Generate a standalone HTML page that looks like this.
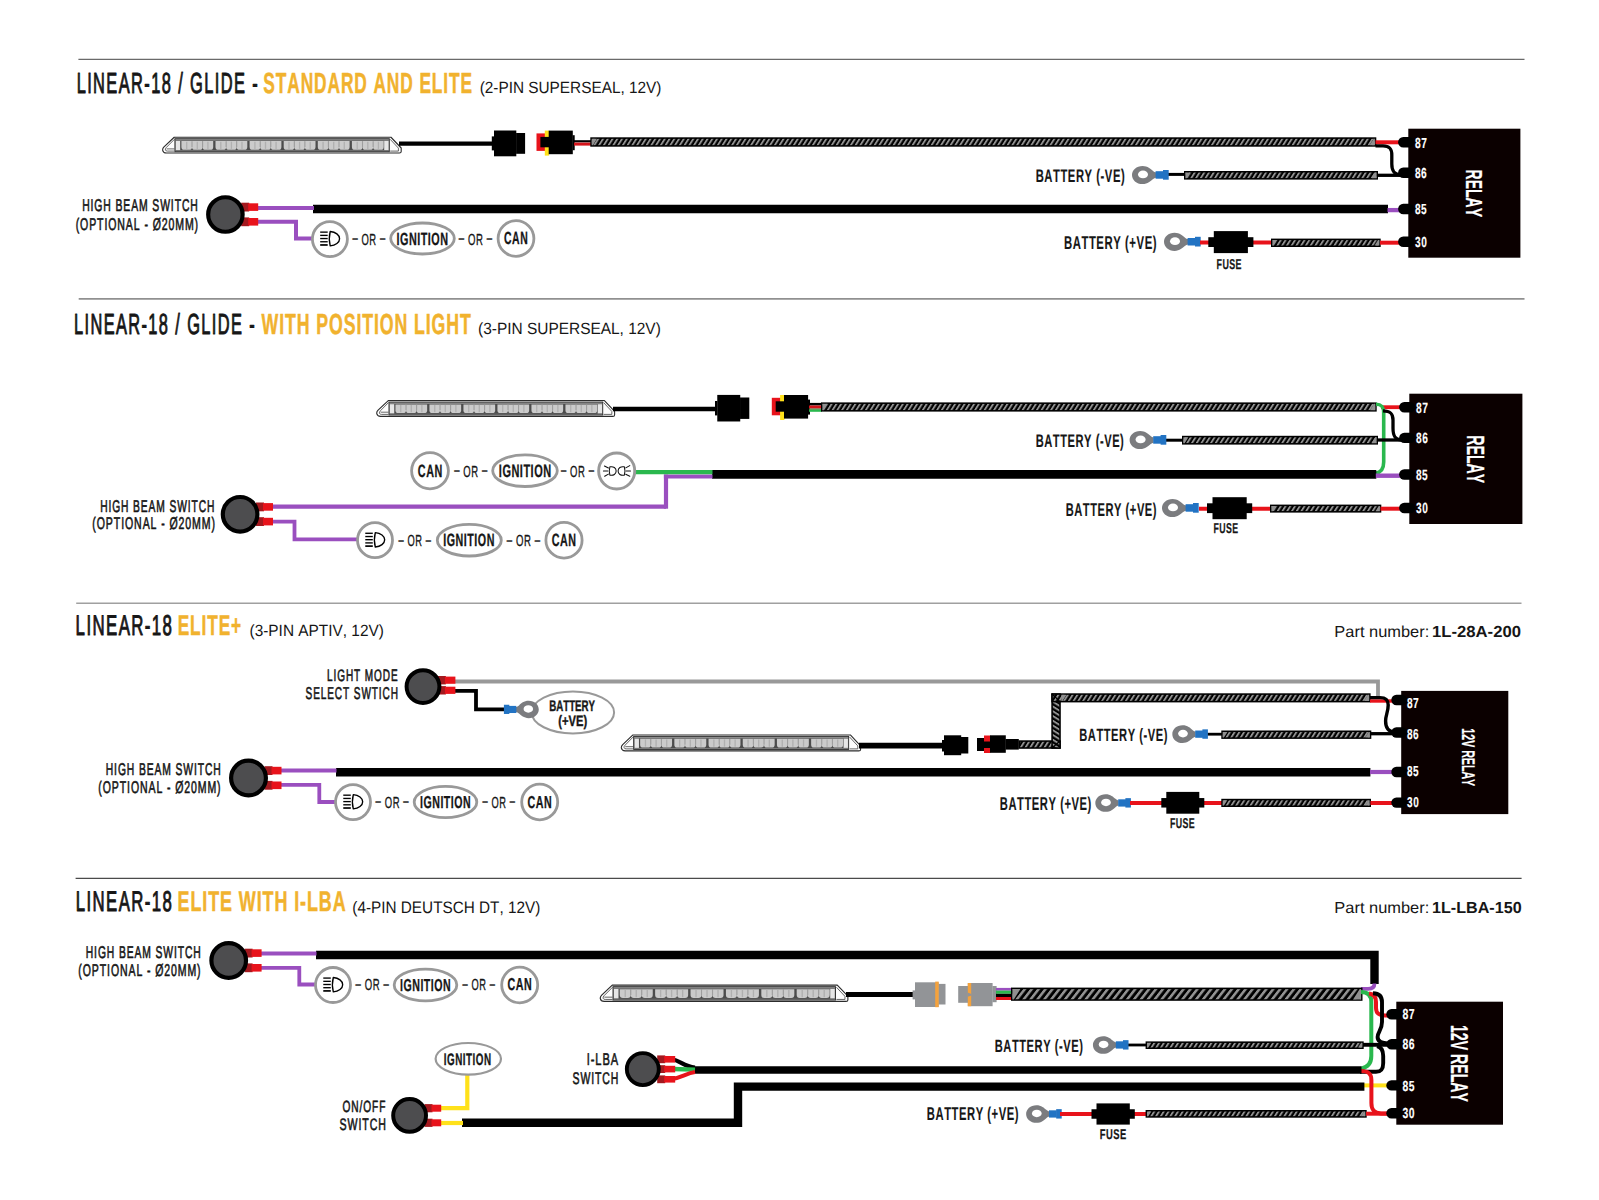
<!DOCTYPE html>
<html lang="en"><head><meta charset="utf-8"><title>Linear-18 wiring diagrams</title>
<style>
html,body{margin:0;padding:0;background:#fff;}
body{width:1599px;height:1200px;overflow:hidden;}
svg{display:block;font-family:"Liberation Sans",Arial,sans-serif;font-kerning:none;text-rendering:geometricPrecision;}
text{font-kerning:none;}
</style></head><body>
<svg width="1599" height="1200" viewBox="0 0 1599 1200">
<defs>
<pattern id="h1" width="4.75" height="20" patternUnits="userSpaceOnUse" patternTransform="skewX(-32)"><rect width="4.75" height="20" fill="#000"/><rect x="0" width="2.2" height="20" fill="#929292"/></pattern>
<pattern id="h1v" width="4.75" height="20" patternUnits="userSpaceOnUse" patternTransform="rotate(90) skewX(-32)"><rect width="4.75" height="20" fill="#000"/><rect x="0" width="2.2" height="20" fill="#929292"/></pattern>
<pattern id="h2" width="6.9" height="30" patternUnits="userSpaceOnUse" patternTransform="translate(2,0) skewX(-38)"><rect width="6.9" height="30" fill="#000"/><rect x="0" width="3.25" height="30" fill="#929292"/></pattern>
</defs>
<rect width="1599" height="1200" fill="#fff"/>

<line x1="78.4" y1="59.3" x2="1524.5" y2="59.3" stroke="#6a6a6a" stroke-width="1.2"/>
<text transform="translate(76.65,92.60) scale(0.5642,1)" font-size="29.07" font-weight="normal" fill="#161616" stroke="#161616" stroke-width="1.0" stroke-linejoin="round" letter-spacing="2.481">LINEAR-18 / GLIDE -</text>
<text transform="translate(263.30,92.60) scale(0.5963,1)" font-size="29.07" font-weight="bold" fill="#f1b22e" stroke="#f1b22e" stroke-width="0.5" stroke-linejoin="round" letter-spacing="1.509">STANDARD AND ELITE</text>
<text transform="translate(479.65,93.20) scale(0.9440,1)" font-size="16.28" font-weight="normal" fill="#161616">(2-PIN SUPERSEAL, 12V)</text>
<g transform="translate(161.80,136.70) scale(1.0000,1.0000)"><path d="M12.4,0.55 L229.2,0.55 L239.4,11.3 L239.4,14.9 Q239.4,16.35 237.6,16.35 L4.6,16.35 Q1.4,16.35 0.9,13.7 Q0.5,12 2.2,10.2 Z" fill="#fdfdfd" stroke="#2c2c2c" stroke-width="1.1" stroke-linejoin="round"/><path d="M12.6,2.6 L4.6,10.7 Q3.2,12.2 3.6,13.3 Q4,14.4 5.6,14.4 L12.6,14.4 M4.8,12.2 H12.6" fill="none" stroke="#444" stroke-width="0.8" stroke-linejoin="round"/><path d="M228.4,2.6 L236.6,11.4 L236.6,14.4 L228.4,14.4" stroke="#444" stroke-width="0.8" fill="none"/><rect x="13.1" y="2.0" width="214.4" height="13.0" fill="#8c8c8c" stroke="#2e2e2e" stroke-width="0.9"/><rect x="13.6" y="3.9" width="213.4" height="9.9" fill="#4c4c4c"/><rect x="14" y="4.2" width="4.4" height="9.2" fill="#e6e6e6"/><rect x="222.4" y="4.2" width="4.4" height="9.2" fill="#e6e6e6"/><path d="M19.60,4.4 h10.60 v5.8 q0,2.9 -2.9,2.9 h-4.80 q-2.9,0 -2.9,-2.9 z" fill="#cbcbcb"/><line x1="24.90" y1="5" x2="24.90" y2="12.2" stroke="#b0b0b0" stroke-width="1.3"/><path d="M30.20,4.4 h10.60 v5.8 q0,2.9 -2.9,2.9 h-4.80 q-2.9,0 -2.9,-2.9 z" fill="#cbcbcb"/><line x1="35.50" y1="5" x2="35.50" y2="12.2" stroke="#b0b0b0" stroke-width="1.3"/><line x1="30.20" y1="4.6" x2="30.20" y2="10.2" stroke="#9e9e9e" stroke-width="1.1"/><path d="M40.80,4.4 h10.60 v5.8 q0,2.9 -2.9,2.9 h-4.80 q-2.9,0 -2.9,-2.9 z" fill="#cbcbcb"/><line x1="46.10" y1="5" x2="46.10" y2="12.2" stroke="#b0b0b0" stroke-width="1.3"/><line x1="40.80" y1="4.6" x2="40.80" y2="10.2" stroke="#9e9e9e" stroke-width="1.1"/><path d="M53.70,4.4 h10.60 v5.8 q0,2.9 -2.9,2.9 h-4.80 q-2.9,0 -2.9,-2.9 z" fill="#cbcbcb"/><line x1="59.00" y1="5" x2="59.00" y2="12.2" stroke="#b0b0b0" stroke-width="1.3"/><path d="M64.30,4.4 h10.60 v5.8 q0,2.9 -2.9,2.9 h-4.80 q-2.9,0 -2.9,-2.9 z" fill="#cbcbcb"/><line x1="69.60" y1="5" x2="69.60" y2="12.2" stroke="#b0b0b0" stroke-width="1.3"/><line x1="64.30" y1="4.6" x2="64.30" y2="10.2" stroke="#9e9e9e" stroke-width="1.1"/><path d="M74.90,4.4 h10.60 v5.8 q0,2.9 -2.9,2.9 h-4.80 q-2.9,0 -2.9,-2.9 z" fill="#cbcbcb"/><line x1="80.20" y1="5" x2="80.20" y2="12.2" stroke="#b0b0b0" stroke-width="1.3"/><line x1="74.90" y1="4.6" x2="74.90" y2="10.2" stroke="#9e9e9e" stroke-width="1.1"/><path d="M87.80,4.4 h10.60 v5.8 q0,2.9 -2.9,2.9 h-4.80 q-2.9,0 -2.9,-2.9 z" fill="#cbcbcb"/><line x1="93.10" y1="5" x2="93.10" y2="12.2" stroke="#b0b0b0" stroke-width="1.3"/><path d="M98.40,4.4 h10.60 v5.8 q0,2.9 -2.9,2.9 h-4.80 q-2.9,0 -2.9,-2.9 z" fill="#cbcbcb"/><line x1="103.70" y1="5" x2="103.70" y2="12.2" stroke="#b0b0b0" stroke-width="1.3"/><line x1="98.40" y1="4.6" x2="98.40" y2="10.2" stroke="#9e9e9e" stroke-width="1.1"/><path d="M109.00,4.4 h10.60 v5.8 q0,2.9 -2.9,2.9 h-4.80 q-2.9,0 -2.9,-2.9 z" fill="#cbcbcb"/><line x1="114.30" y1="5" x2="114.30" y2="12.2" stroke="#b0b0b0" stroke-width="1.3"/><line x1="109.00" y1="4.6" x2="109.00" y2="10.2" stroke="#9e9e9e" stroke-width="1.1"/><path d="M121.90,4.4 h10.60 v5.8 q0,2.9 -2.9,2.9 h-4.80 q-2.9,0 -2.9,-2.9 z" fill="#cbcbcb"/><line x1="127.20" y1="5" x2="127.20" y2="12.2" stroke="#b0b0b0" stroke-width="1.3"/><path d="M132.50,4.4 h10.60 v5.8 q0,2.9 -2.9,2.9 h-4.80 q-2.9,0 -2.9,-2.9 z" fill="#cbcbcb"/><line x1="137.80" y1="5" x2="137.80" y2="12.2" stroke="#b0b0b0" stroke-width="1.3"/><line x1="132.50" y1="4.6" x2="132.50" y2="10.2" stroke="#9e9e9e" stroke-width="1.1"/><path d="M143.10,4.4 h10.60 v5.8 q0,2.9 -2.9,2.9 h-4.80 q-2.9,0 -2.9,-2.9 z" fill="#cbcbcb"/><line x1="148.40" y1="5" x2="148.40" y2="12.2" stroke="#b0b0b0" stroke-width="1.3"/><line x1="143.10" y1="4.6" x2="143.10" y2="10.2" stroke="#9e9e9e" stroke-width="1.1"/><path d="M156.00,4.4 h10.60 v5.8 q0,2.9 -2.9,2.9 h-4.80 q-2.9,0 -2.9,-2.9 z" fill="#cbcbcb"/><line x1="161.30" y1="5" x2="161.30" y2="12.2" stroke="#b0b0b0" stroke-width="1.3"/><path d="M166.60,4.4 h10.60 v5.8 q0,2.9 -2.9,2.9 h-4.80 q-2.9,0 -2.9,-2.9 z" fill="#cbcbcb"/><line x1="171.90" y1="5" x2="171.90" y2="12.2" stroke="#b0b0b0" stroke-width="1.3"/><line x1="166.60" y1="4.6" x2="166.60" y2="10.2" stroke="#9e9e9e" stroke-width="1.1"/><path d="M177.20,4.4 h10.60 v5.8 q0,2.9 -2.9,2.9 h-4.80 q-2.9,0 -2.9,-2.9 z" fill="#cbcbcb"/><line x1="182.50" y1="5" x2="182.50" y2="12.2" stroke="#b0b0b0" stroke-width="1.3"/><line x1="177.20" y1="4.6" x2="177.20" y2="10.2" stroke="#9e9e9e" stroke-width="1.1"/><path d="M190.10,4.4 h10.60 v5.8 q0,2.9 -2.9,2.9 h-4.80 q-2.9,0 -2.9,-2.9 z" fill="#cbcbcb"/><line x1="195.40" y1="5" x2="195.40" y2="12.2" stroke="#b0b0b0" stroke-width="1.3"/><path d="M200.70,4.4 h10.60 v5.8 q0,2.9 -2.9,2.9 h-4.80 q-2.9,0 -2.9,-2.9 z" fill="#cbcbcb"/><line x1="206.00" y1="5" x2="206.00" y2="12.2" stroke="#b0b0b0" stroke-width="1.3"/><line x1="200.70" y1="4.6" x2="200.70" y2="10.2" stroke="#9e9e9e" stroke-width="1.1"/><path d="M211.30,4.4 h10.60 v5.8 q0,2.9 -2.9,2.9 h-4.80 q-2.9,0 -2.9,-2.9 z" fill="#cbcbcb"/><line x1="216.60" y1="5" x2="216.60" y2="12.2" stroke="#b0b0b0" stroke-width="1.3"/><line x1="211.30" y1="4.6" x2="211.30" y2="10.2" stroke="#9e9e9e" stroke-width="1.1"/></g>
<path d="M399.00,143.60 L493.00,143.60" fill="none" stroke="#000000" stroke-width="4.4" stroke-linecap="butt" stroke-linejoin="miter"/>
<rect x="491.80" y="136.40" width="2.40" height="14.00" fill="#000000"/>
<rect x="494.00" y="130.50" width="22.30" height="25.80" fill="#000000"/>
<rect x="516.10" y="133.00" width="9.00" height="20.80" fill="#000000"/>
<rect x="536.50" y="133.40" width="9.00" height="17.50" fill="#e8131b"/>
<rect x="544.80" y="130.60" width="4.30" height="25.00" fill="#ffe11a"/>
<rect x="540.40" y="136.90" width="9.10" height="10.40" fill="#000000"/>
<rect x="548.70" y="130.60" width="24.10" height="23.60" fill="#000000"/>
<rect x="572.50" y="135.20" width="2.20" height="15.00" fill="#000000"/>
<path d="M574.00,141.30 L591.00,141.30" fill="none" stroke="#000000" stroke-width="2.2" stroke-linecap="butt" stroke-linejoin="miter"/>
<path d="M574.00,144.10 L591.00,144.10" fill="none" stroke="#d4141a" stroke-width="3.0" stroke-linecap="butt" stroke-linejoin="miter"/>
<rect x="590.30" y="137.30" width="786.00" height="9.40" fill="#000000"/>
<rect x="591.85" y="138.85" width="782.90" height="6.30" fill="url(#h1)"/>
<path d="M591.70,138.70 h5.29 l-4.09,6.60 h-1.2 z" fill="#909090"/>
<path d="M1374.90,145.30 h-5.29 l4.09,-6.60 h1.2 z" fill="#909090"/>
<path d="M1375.50,142.30 L1401.00,142.30" fill="none" stroke="#e8131b" stroke-width="4.0" stroke-linecap="butt" stroke-linejoin="miter"/>
<path d="M1375.5,145.8 H1383 C1390,145.8 1391.8,149 1391.8,155 V164 C1391.8,171 1394,174.6 1401,174.8" fill="none" stroke="#000000" stroke-width="3.3" stroke-linecap="butt" stroke-linejoin="round"/>
<path d="M1377.00,175.30 L1401.00,175.30" fill="none" stroke="#000000" stroke-width="3.3" stroke-linecap="butt" stroke-linejoin="miter"/>
<rect x="1184.00" y="171.00" width="194.00" height="8.60" fill="#000000"/>
<rect x="1185.55" y="172.55" width="190.90" height="5.50" fill="url(#h1)"/>
<path d="M1185.40,172.40 h4.80 l-3.60,5.80 h-1.2 z" fill="#909090"/>
<path d="M1376.60,178.20 h-4.80 l3.60,-5.80 h1.2 z" fill="#909090"/>
<path d="M1168.00,174.40 L1185.00,174.40" fill="none" stroke="#000000" stroke-width="3.0" stroke-linecap="butt" stroke-linejoin="miter"/>
<g transform="translate(1142.60,175.00) scale(1.000,1.000)"><path d="M0,-9.1 C5.2,-9.1 8,-6.2 10.2,-4.3 C11.4,-3.3 12.3,-2.8 13.4,-2.7 L13.4,2.7 C12.3,2.8 11.4,3.3 10.2,4.3 C8,6.2 5.2,9.1 0,9.1 C-6.2,9.1 -10.6,5 -10.6,0 C-10.6,-5 -6.2,-9.1 0,-9.1 Z" fill="#7b7c7f"/><ellipse cx="0.4" cy="-0.6" rx="5" ry="3.9" fill="#fff"/><rect x="13" y="-3.8" width="8" height="7.5" fill="#2273c3"/><rect x="20.4" y="-5" width="5.7" height="9.7" fill="#2273c3"/></g>
<text transform="translate(1035.65,182.40) scale(0.6193,1)" font-size="18.17" font-weight="bold" fill="#161616" stroke="#161616" stroke-width="0.15" stroke-linejoin="round" letter-spacing="0.888">BATTERY (-VE)</text>
<path d="M313.00,209.00 L1388.00,209.00" fill="none" stroke="#000000" stroke-width="8.6" stroke-linecap="butt" stroke-linejoin="miter"/>
<path d="M1387.50,210.10 L1401.00,210.10" fill="none" stroke="#9a4fbf" stroke-width="4.3" stroke-linecap="butt" stroke-linejoin="miter"/>
<text transform="translate(1063.94,248.70) scale(0.6097,1)" font-size="18.60" font-weight="bold" fill="#161616" stroke="#161616" stroke-width="0.15" stroke-linejoin="round" letter-spacing="0.902">BATTERY (+VE)</text>
<g transform="translate(1174.60,241.80) scale(1.000,1.000)"><path d="M0,-9.1 C5.2,-9.1 8,-6.2 10.2,-4.3 C11.4,-3.3 12.3,-2.8 13.4,-2.7 L13.4,2.7 C12.3,2.8 11.4,3.3 10.2,4.3 C8,6.2 5.2,9.1 0,9.1 C-6.2,9.1 -10.6,5 -10.6,0 C-10.6,-5 -6.2,-9.1 0,-9.1 Z" fill="#7b7c7f"/><ellipse cx="0.4" cy="-0.6" rx="5" ry="3.9" fill="#fff"/><rect x="13" y="-3.8" width="8" height="7.5" fill="#2273c3"/><rect x="20.4" y="-5" width="5.7" height="9.7" fill="#2273c3"/></g>
<path d="M1200.00,242.40 L1272.00,242.40" fill="none" stroke="#e8131b" stroke-width="4.0" stroke-linecap="butt" stroke-linejoin="miter"/>
<rect x="1208.30" y="237.20" width="45.10" height="9.80" fill="#000000"/>
<rect x="1213.80" y="231.10" width="34.10" height="22.00" fill="#000000"/>
<rect x="1271.00" y="238.60" width="109.70" height="8.40" fill="#000000"/>
<rect x="1272.55" y="240.15" width="106.60" height="5.30" fill="url(#h1)"/>
<path d="M1272.40,240.00 h4.67 l-3.47,5.60 h-1.2 z" fill="#909090"/>
<path d="M1379.30,245.60 h-4.67 l3.47,-5.60 h1.2 z" fill="#909090"/>
<path d="M1380.00,242.70 L1401.00,242.70" fill="none" stroke="#e8131b" stroke-width="4.0" stroke-linecap="butt" stroke-linejoin="miter"/>
<text transform="translate(1216.60,269.00) scale(0.6250,1)" font-size="14.24" font-weight="bold" fill="#161616" stroke="#161616" stroke-width="0.25" stroke-linejoin="round" letter-spacing="0.640">FUSE</text>
<rect x="1408.30" y="128.70" width="112.10" height="129.00" fill="#0b0000"/>
<rect x="1398.10" y="137.10" width="16.20" height="10.40" rx="5.20" fill="#000000"/>
<rect x="1398.10" y="167.50" width="16.20" height="10.40" rx="5.20" fill="#000000"/>
<rect x="1398.10" y="203.80" width="16.20" height="10.40" rx="5.20" fill="#000000"/>
<rect x="1398.10" y="236.50" width="16.20" height="10.40" rx="5.20" fill="#000000"/>
<text transform="translate(1414.98,147.70) scale(0.7035,1)" font-size="14.54" font-weight="bold" fill="#fff" stroke="#fff" stroke-width="0.15" stroke-linejoin="round" letter-spacing="0.711">87</text>
<text transform="translate(1414.98,178.30) scale(0.6982,1)" font-size="14.54" font-weight="bold" fill="#fff" stroke="#fff" stroke-width="0.15" stroke-linejoin="round" letter-spacing="0.716">86</text>
<text transform="translate(1414.98,214.30) scale(0.6927,1)" font-size="14.54" font-weight="bold" fill="#fff" stroke="#fff" stroke-width="0.15" stroke-linejoin="round" letter-spacing="0.722">85</text>
<text transform="translate(1415.07,246.60) scale(0.6956,1)" font-size="14.54" font-weight="bold" fill="#fff" stroke="#fff" stroke-width="0.15" stroke-linejoin="round" letter-spacing="0.719">30</text>
<text transform="translate(1466.40,169.56) rotate(90) scale(0.6060,1)" font-size="23.11" font-weight="bold" fill="#fff" stroke="#fff" stroke-width="0.2" stroke-linejoin="round">RELAY</text>
<path d="M255.00,208.00 L314.00,208.00" fill="none" stroke="#9a4fbf" stroke-width="4.0" stroke-linecap="butt" stroke-linejoin="miter"/>
<path d="M255.00,221.80 L296.00,221.80 L296.00,238.60 L313.00,238.60" fill="none" stroke="#9a4fbf" stroke-width="4.0" stroke-linecap="butt" stroke-linejoin="miter"/>
<rect x="241.20" y="202.70" width="8.00" height="8.80" fill="#a3191f"/>
<rect x="248.20" y="203.30" width="10.00" height="7.60" fill="#e8131b"/>
<rect x="241.20" y="217.40" width="8.00" height="8.80" fill="#a3191f"/>
<rect x="248.20" y="218.00" width="10.00" height="7.60" fill="#e8131b"/>
<circle cx="225.40" cy="214.50" r="17.23" fill="#4d4d4f" stroke="#000000" stroke-width="4.15"/>
<text transform="translate(82.15,211.30) scale(0.6111,1)" font-size="17.01" font-weight="normal" fill="#161616" stroke="#161616" stroke-width="0.62" stroke-linejoin="round" letter-spacing="1.473">HIGH BEAM SWITCH</text>
<text transform="translate(75.65,230.00) scale(0.6200,1)" font-size="17.01" font-weight="normal" fill="#161616" stroke="#161616" stroke-width="0.62" stroke-linejoin="round" letter-spacing="1.452">(OPTIONAL - Ø20MM)</text>
<circle cx="329.90" cy="239.05" r="17.50" fill="#fff" stroke="#999999" stroke-width="2.8"/>
<g transform="translate(329.90,239.05) scale(1.003)" stroke="#000" fill="none"><line x1="-9.7" y1="-6.9" x2="-2.2" y2="-6.9" stroke-width="1.35"/><line x1="-9.7" y1="-3.65" x2="-2.2" y2="-3.65" stroke-width="1.35"/><line x1="-9.7" y1="-0.5" x2="-2.2" y2="-0.5" stroke-width="1.35"/><line x1="-9.7" y1="2.7" x2="-2.2" y2="2.7" stroke-width="1.35"/><line x1="-9.7" y1="5.9" x2="-2.2" y2="5.9" stroke-width="1.7"/><path d="M0.3,-7.5 A10.6,7.2 0 0 1 0.3,6.8 Q-1.5,-0.3 0.3,-7.5 Z" stroke-width="1.35" stroke-linejoin="round"/></g>
<text transform="translate(352.40,244.70) scale(0.5884,1)" font-size="15.99" fill="#161616" stroke="#161616" stroke-width="0.35" letter-spacing="1.020"><tspan dy="-1.7">–</tspan><tspan dy="1.7"> OR </tspan><tspan dy="-1.7">–</tspan></text>
<ellipse cx="422.50" cy="238.50" rx="31.80" ry="15.50" fill="#fff" stroke="#999999" stroke-width="2.8"/>
<text transform="translate(396.48,244.70) scale(0.6097,1)" font-size="17.73" font-weight="bold" fill="#161616" stroke="#161616" stroke-width="0.3" stroke-linejoin="round" letter-spacing="0.820">IGNITION</text>
<text transform="translate(458.70,244.70) scale(0.5983,1)" font-size="15.99" fill="#161616" stroke="#161616" stroke-width="0.35" letter-spacing="1.003"><tspan dy="-1.7">–</tspan><tspan dy="1.7"> OR </tspan><tspan dy="-1.7">–</tspan></text>
<ellipse cx="516.00" cy="238.50" rx="17.90" ry="17.80" fill="#fff" stroke="#999999" stroke-width="2.8"/>
<text transform="translate(504.07,244.20) scale(0.5891,1)" font-size="17.73" font-weight="bold" fill="#161616" stroke="#161616" stroke-width="0.3" stroke-linejoin="round" letter-spacing="0.849">CAN</text>
<line x1="78.7" y1="298.9" x2="1524.5" y2="298.9" stroke="#909090" stroke-width="1.7"/>
<text transform="translate(73.96,333.70) scale(0.5631,1)" font-size="29.07" font-weight="normal" fill="#161616" stroke="#161616" stroke-width="1.0" stroke-linejoin="round" letter-spacing="2.486">LINEAR-18 / GLIDE -</text>
<text transform="translate(261.58,333.70) scale(0.6101,1)" font-size="29.07" font-weight="bold" fill="#f1b22e" stroke="#f1b22e" stroke-width="0.5" stroke-linejoin="round" letter-spacing="1.475">WITH POSITION LIGHT</text>
<text transform="translate(478.04,334.40) scale(0.9492,1)" font-size="16.28" font-weight="normal" fill="#161616">(3-PIN SUPERSEAL, 12V)</text>
<g transform="translate(375.90,400.00) scale(0.9971,1.0000)"><path d="M12.4,0.55 L229.2,0.55 L239.4,11.3 L239.4,14.9 Q239.4,16.35 237.6,16.35 L4.6,16.35 Q1.4,16.35 0.9,13.7 Q0.5,12 2.2,10.2 Z" fill="#fdfdfd" stroke="#2c2c2c" stroke-width="1.1" stroke-linejoin="round"/><path d="M12.6,2.6 L4.6,10.7 Q3.2,12.2 3.6,13.3 Q4,14.4 5.6,14.4 L12.6,14.4 M4.8,12.2 H12.6" fill="none" stroke="#444" stroke-width="0.8" stroke-linejoin="round"/><path d="M228.4,2.6 L236.6,11.4 L236.6,14.4 L228.4,14.4" stroke="#444" stroke-width="0.8" fill="none"/><rect x="13.1" y="2.0" width="214.4" height="13.0" fill="#8c8c8c" stroke="#2e2e2e" stroke-width="0.9"/><rect x="13.6" y="3.9" width="213.4" height="9.9" fill="#4c4c4c"/><rect x="14" y="4.2" width="4.4" height="9.2" fill="#e6e6e6"/><rect x="222.4" y="4.2" width="4.4" height="9.2" fill="#e6e6e6"/><path d="M19.60,4.4 h10.60 v5.8 q0,2.9 -2.9,2.9 h-4.80 q-2.9,0 -2.9,-2.9 z" fill="#cbcbcb"/><line x1="24.90" y1="5" x2="24.90" y2="12.2" stroke="#b0b0b0" stroke-width="1.3"/><path d="M30.20,4.4 h10.60 v5.8 q0,2.9 -2.9,2.9 h-4.80 q-2.9,0 -2.9,-2.9 z" fill="#cbcbcb"/><line x1="35.50" y1="5" x2="35.50" y2="12.2" stroke="#b0b0b0" stroke-width="1.3"/><line x1="30.20" y1="4.6" x2="30.20" y2="10.2" stroke="#9e9e9e" stroke-width="1.1"/><path d="M40.80,4.4 h10.60 v5.8 q0,2.9 -2.9,2.9 h-4.80 q-2.9,0 -2.9,-2.9 z" fill="#cbcbcb"/><line x1="46.10" y1="5" x2="46.10" y2="12.2" stroke="#b0b0b0" stroke-width="1.3"/><line x1="40.80" y1="4.6" x2="40.80" y2="10.2" stroke="#9e9e9e" stroke-width="1.1"/><path d="M53.70,4.4 h10.60 v5.8 q0,2.9 -2.9,2.9 h-4.80 q-2.9,0 -2.9,-2.9 z" fill="#cbcbcb"/><line x1="59.00" y1="5" x2="59.00" y2="12.2" stroke="#b0b0b0" stroke-width="1.3"/><path d="M64.30,4.4 h10.60 v5.8 q0,2.9 -2.9,2.9 h-4.80 q-2.9,0 -2.9,-2.9 z" fill="#cbcbcb"/><line x1="69.60" y1="5" x2="69.60" y2="12.2" stroke="#b0b0b0" stroke-width="1.3"/><line x1="64.30" y1="4.6" x2="64.30" y2="10.2" stroke="#9e9e9e" stroke-width="1.1"/><path d="M74.90,4.4 h10.60 v5.8 q0,2.9 -2.9,2.9 h-4.80 q-2.9,0 -2.9,-2.9 z" fill="#cbcbcb"/><line x1="80.20" y1="5" x2="80.20" y2="12.2" stroke="#b0b0b0" stroke-width="1.3"/><line x1="74.90" y1="4.6" x2="74.90" y2="10.2" stroke="#9e9e9e" stroke-width="1.1"/><path d="M87.80,4.4 h10.60 v5.8 q0,2.9 -2.9,2.9 h-4.80 q-2.9,0 -2.9,-2.9 z" fill="#cbcbcb"/><line x1="93.10" y1="5" x2="93.10" y2="12.2" stroke="#b0b0b0" stroke-width="1.3"/><path d="M98.40,4.4 h10.60 v5.8 q0,2.9 -2.9,2.9 h-4.80 q-2.9,0 -2.9,-2.9 z" fill="#cbcbcb"/><line x1="103.70" y1="5" x2="103.70" y2="12.2" stroke="#b0b0b0" stroke-width="1.3"/><line x1="98.40" y1="4.6" x2="98.40" y2="10.2" stroke="#9e9e9e" stroke-width="1.1"/><path d="M109.00,4.4 h10.60 v5.8 q0,2.9 -2.9,2.9 h-4.80 q-2.9,0 -2.9,-2.9 z" fill="#cbcbcb"/><line x1="114.30" y1="5" x2="114.30" y2="12.2" stroke="#b0b0b0" stroke-width="1.3"/><line x1="109.00" y1="4.6" x2="109.00" y2="10.2" stroke="#9e9e9e" stroke-width="1.1"/><path d="M121.90,4.4 h10.60 v5.8 q0,2.9 -2.9,2.9 h-4.80 q-2.9,0 -2.9,-2.9 z" fill="#cbcbcb"/><line x1="127.20" y1="5" x2="127.20" y2="12.2" stroke="#b0b0b0" stroke-width="1.3"/><path d="M132.50,4.4 h10.60 v5.8 q0,2.9 -2.9,2.9 h-4.80 q-2.9,0 -2.9,-2.9 z" fill="#cbcbcb"/><line x1="137.80" y1="5" x2="137.80" y2="12.2" stroke="#b0b0b0" stroke-width="1.3"/><line x1="132.50" y1="4.6" x2="132.50" y2="10.2" stroke="#9e9e9e" stroke-width="1.1"/><path d="M143.10,4.4 h10.60 v5.8 q0,2.9 -2.9,2.9 h-4.80 q-2.9,0 -2.9,-2.9 z" fill="#cbcbcb"/><line x1="148.40" y1="5" x2="148.40" y2="12.2" stroke="#b0b0b0" stroke-width="1.3"/><line x1="143.10" y1="4.6" x2="143.10" y2="10.2" stroke="#9e9e9e" stroke-width="1.1"/><path d="M156.00,4.4 h10.60 v5.8 q0,2.9 -2.9,2.9 h-4.80 q-2.9,0 -2.9,-2.9 z" fill="#cbcbcb"/><line x1="161.30" y1="5" x2="161.30" y2="12.2" stroke="#b0b0b0" stroke-width="1.3"/><path d="M166.60,4.4 h10.60 v5.8 q0,2.9 -2.9,2.9 h-4.80 q-2.9,0 -2.9,-2.9 z" fill="#cbcbcb"/><line x1="171.90" y1="5" x2="171.90" y2="12.2" stroke="#b0b0b0" stroke-width="1.3"/><line x1="166.60" y1="4.6" x2="166.60" y2="10.2" stroke="#9e9e9e" stroke-width="1.1"/><path d="M177.20,4.4 h10.60 v5.8 q0,2.9 -2.9,2.9 h-4.80 q-2.9,0 -2.9,-2.9 z" fill="#cbcbcb"/><line x1="182.50" y1="5" x2="182.50" y2="12.2" stroke="#b0b0b0" stroke-width="1.3"/><line x1="177.20" y1="4.6" x2="177.20" y2="10.2" stroke="#9e9e9e" stroke-width="1.1"/><path d="M190.10,4.4 h10.60 v5.8 q0,2.9 -2.9,2.9 h-4.80 q-2.9,0 -2.9,-2.9 z" fill="#cbcbcb"/><line x1="195.40" y1="5" x2="195.40" y2="12.2" stroke="#b0b0b0" stroke-width="1.3"/><path d="M200.70,4.4 h10.60 v5.8 q0,2.9 -2.9,2.9 h-4.80 q-2.9,0 -2.9,-2.9 z" fill="#cbcbcb"/><line x1="206.00" y1="5" x2="206.00" y2="12.2" stroke="#b0b0b0" stroke-width="1.3"/><line x1="200.70" y1="4.6" x2="200.70" y2="10.2" stroke="#9e9e9e" stroke-width="1.1"/><path d="M211.30,4.4 h10.60 v5.8 q0,2.9 -2.9,2.9 h-4.80 q-2.9,0 -2.9,-2.9 z" fill="#cbcbcb"/><line x1="216.60" y1="5" x2="216.60" y2="12.2" stroke="#b0b0b0" stroke-width="1.3"/><line x1="211.30" y1="4.6" x2="211.30" y2="10.2" stroke="#9e9e9e" stroke-width="1.1"/></g>
<path d="M613.00,409.00 L716.00,409.00" fill="none" stroke="#000000" stroke-width="4.4" stroke-linecap="butt" stroke-linejoin="miter"/>
<rect x="715.00" y="400.99" width="2.47" height="14.42" fill="#000000"/>
<rect x="717.27" y="394.91" width="22.97" height="26.57" fill="#000000"/>
<rect x="740.03" y="397.49" width="9.27" height="21.42" fill="#000000"/>
<rect x="771.80" y="397.80" width="9.00" height="17.50" fill="#e8131b"/>
<rect x="780.10" y="395.00" width="4.30" height="25.00" fill="#ffe11a"/>
<rect x="775.70" y="401.30" width="9.10" height="10.40" fill="#000000"/>
<rect x="784.00" y="395.00" width="24.10" height="23.60" fill="#000000"/>
<rect x="807.80" y="399.60" width="2.20" height="15.00" fill="#000000"/>
<path d="M809.00,404.20 L822.00,404.20" fill="none" stroke="#000000" stroke-width="2.6" stroke-linecap="butt" stroke-linejoin="miter"/>
<path d="M809.00,406.90 L822.00,406.90" fill="none" stroke="#d4141a" stroke-width="2.8" stroke-linecap="butt" stroke-linejoin="miter"/>
<path d="M809.00,409.00 L822.00,409.00" fill="none" stroke="#7a5a3a" stroke-width="1.4" stroke-linecap="butt" stroke-linejoin="miter"/>
<path d="M809.00,410.60 L822.00,410.60" fill="none" stroke="#2ab84e" stroke-width="2.4" stroke-linecap="butt" stroke-linejoin="miter"/>
<rect x="821.00" y="402.40" width="555.70" height="9.20" fill="#000000"/>
<rect x="822.55" y="403.95" width="552.60" height="6.10" fill="url(#h1)"/>
<path d="M822.40,403.80 h5.17 l-3.97,6.40 h-1.2 z" fill="#909090"/>
<path d="M1375.30,410.20 h-5.17 l3.97,-6.40 h1.2 z" fill="#909090"/>
<path d="M1381.00,407.20 L1401.00,407.20" fill="none" stroke="#e8131b" stroke-width="3.8" stroke-linecap="butt" stroke-linejoin="miter"/>
<path d="M1376,404.2 C1382,404.2 1383.7,407 1383.7,413 V462 C1383.7,469 1381,472.5 1375.5,473.2" fill="none" stroke="#2ab84e" stroke-width="3.6" stroke-linecap="butt" stroke-linejoin="round"/>
<path d="M1383,410.8 C1391,410.8 1393,414 1393,420 V428 C1393,436 1395,439.6 1401,439.8" fill="none" stroke="#000000" stroke-width="3.3" stroke-linecap="butt" stroke-linejoin="round"/>
<path d="M1377.00,440.00 L1401.00,440.00" fill="none" stroke="#000000" stroke-width="3.3" stroke-linecap="butt" stroke-linejoin="miter"/>
<rect x="1182.00" y="435.80" width="196.00" height="8.80" fill="#000000"/>
<rect x="1183.55" y="437.35" width="192.90" height="5.70" fill="url(#h1)"/>
<path d="M1183.40,437.20 h4.92 l-3.72,6.00 h-1.2 z" fill="#909090"/>
<path d="M1376.60,443.20 h-4.92 l3.72,-6.00 h1.2 z" fill="#909090"/>
<path d="M1166.00,440.20 L1183.00,440.20" fill="none" stroke="#000000" stroke-width="3.0" stroke-linecap="butt" stroke-linejoin="miter"/>
<g transform="translate(1140.20,440.00) scale(1.000,1.000)"><path d="M0,-9.1 C5.2,-9.1 8,-6.2 10.2,-4.3 C11.4,-3.3 12.3,-2.8 13.4,-2.7 L13.4,2.7 C12.3,2.8 11.4,3.3 10.2,4.3 C8,6.2 5.2,9.1 0,9.1 C-6.2,9.1 -10.6,5 -10.6,0 C-10.6,-5 -6.2,-9.1 0,-9.1 Z" fill="#7b7c7f"/><ellipse cx="0.4" cy="-0.6" rx="5" ry="3.9" fill="#fff"/><rect x="13" y="-3.8" width="8" height="7.5" fill="#2273c3"/><rect x="20.4" y="-5" width="5.7" height="9.7" fill="#2273c3"/></g>
<text transform="translate(1035.66,446.60) scale(0.6125,1)" font-size="18.17" font-weight="bold" fill="#161616" stroke="#161616" stroke-width="0.15" stroke-linejoin="round" letter-spacing="0.898">BATTERY (-VE)</text>
<path d="M712.00,474.40 L1376.30,474.40" fill="none" stroke="#000000" stroke-width="8.8" stroke-linecap="butt" stroke-linejoin="miter"/>
<path d="M1375.80,475.70 L1401.00,475.70" fill="none" stroke="#9a4fbf" stroke-width="4.4" stroke-linecap="butt" stroke-linejoin="miter"/>
<path d="M257.00,506.60 L666.00,506.60" fill="none" stroke="#9a4fbf" stroke-width="4.2" stroke-linecap="butt" stroke-linejoin="miter"/>
<path d="M666.00,508.70 L666.00,474.60" fill="none" stroke="#9a4fbf" stroke-width="4.2" stroke-linecap="butt" stroke-linejoin="miter"/>
<path d="M663.90,476.60 L712.50,476.60" fill="none" stroke="#9a4fbf" stroke-width="4.0" stroke-linecap="butt" stroke-linejoin="miter"/>
<path d="M636.00,472.20 L712.50,472.20" fill="none" stroke="#2ab84e" stroke-width="4.3" stroke-linecap="butt" stroke-linejoin="miter"/>
<text transform="translate(1065.66,516.00) scale(0.5974,1)" font-size="18.60" font-weight="bold" fill="#161616" stroke="#161616" stroke-width="0.15" stroke-linejoin="round" letter-spacing="0.921">BATTERY (+VE)</text>
<g transform="translate(1172.60,508.00) scale(1.000,1.000)"><path d="M0,-9.1 C5.2,-9.1 8,-6.2 10.2,-4.3 C11.4,-3.3 12.3,-2.8 13.4,-2.7 L13.4,2.7 C12.3,2.8 11.4,3.3 10.2,4.3 C8,6.2 5.2,9.1 0,9.1 C-6.2,9.1 -10.6,5 -10.6,0 C-10.6,-5 -6.2,-9.1 0,-9.1 Z" fill="#7b7c7f"/><ellipse cx="0.4" cy="-0.6" rx="5" ry="3.9" fill="#fff"/><rect x="13" y="-3.8" width="8" height="7.5" fill="#2273c3"/><rect x="20.4" y="-5" width="5.7" height="9.7" fill="#2273c3"/></g>
<path d="M1199.00,508.80 L1271.00,508.80" fill="none" stroke="#e8131b" stroke-width="4.0" stroke-linecap="butt" stroke-linejoin="miter"/>
<rect x="1207.00" y="503.30" width="45.20" height="9.80" fill="#000000"/>
<rect x="1212.50" y="497.20" width="34.20" height="22.00" fill="#000000"/>
<rect x="1270.00" y="504.60" width="111.30" height="8.00" fill="#000000"/>
<rect x="1271.55" y="506.15" width="108.20" height="4.90" fill="url(#h1)"/>
<path d="M1271.40,506.00 h4.42 l-3.22,5.20 h-1.2 z" fill="#909090"/>
<path d="M1379.90,511.20 h-4.42 l3.22,-5.20 h1.2 z" fill="#909090"/>
<path d="M1380.50,508.70 L1401.00,508.70" fill="none" stroke="#e8131b" stroke-width="4.0" stroke-linecap="butt" stroke-linejoin="miter"/>
<text transform="translate(1213.61,533.30) scale(0.6140,1)" font-size="14.24" font-weight="bold" fill="#161616" stroke="#161616" stroke-width="0.25" stroke-linejoin="round" letter-spacing="0.651">FUSE</text>
<rect x="1409.30" y="393.70" width="113.10" height="130.30" fill="#0b0000"/>
<rect x="1399.10" y="402.10" width="16.20" height="10.40" rx="5.20" fill="#000000"/>
<rect x="1399.10" y="432.70" width="16.20" height="10.40" rx="5.20" fill="#000000"/>
<rect x="1399.10" y="469.30" width="16.20" height="10.40" rx="5.20" fill="#000000"/>
<rect x="1399.10" y="502.80" width="16.20" height="10.40" rx="5.20" fill="#000000"/>
<text transform="translate(1415.98,412.70) scale(0.6897,1)" font-size="14.83" font-weight="bold" fill="#fff" stroke="#fff" stroke-width="0.15" stroke-linejoin="round" letter-spacing="0.725">87</text>
<text transform="translate(1415.98,443.30) scale(0.6846,1)" font-size="14.83" font-weight="bold" fill="#fff" stroke="#fff" stroke-width="0.15" stroke-linejoin="round" letter-spacing="0.730">86</text>
<text transform="translate(1415.98,479.90) scale(0.6792,1)" font-size="14.83" font-weight="bold" fill="#fff" stroke="#fff" stroke-width="0.15" stroke-linejoin="round" letter-spacing="0.736">85</text>
<text transform="translate(1416.07,513.30) scale(0.6820,1)" font-size="14.83" font-weight="bold" fill="#fff" stroke="#fff" stroke-width="0.15" stroke-linejoin="round" letter-spacing="0.733">30</text>
<text transform="translate(1467.10,435.25) rotate(90) scale(0.5707,1)" font-size="24.86" font-weight="bold" fill="#fff" stroke="#fff" stroke-width="0.2" stroke-linejoin="round">RELAY</text>
<ellipse cx="430.00" cy="470.70" rx="18.40" ry="18.10" fill="#fff" stroke="#999999" stroke-width="2.8"/>
<text transform="translate(417.86,476.60) scale(0.6033,1)" font-size="17.88" font-weight="bold" fill="#161616" stroke="#161616" stroke-width="0.3" stroke-linejoin="round" letter-spacing="0.829">CAN</text>
<text transform="translate(454.20,477.00) scale(0.5924,1)" font-size="15.99" fill="#161616" stroke="#161616" stroke-width="0.35" letter-spacing="1.013"><tspan dy="-1.7">–</tspan><tspan dy="1.7"> OR </tspan><tspan dy="-1.7">–</tspan></text>
<ellipse cx="525.00" cy="470.70" rx="32.30" ry="15.80" fill="#fff" stroke="#999999" stroke-width="2.8"/>
<text transform="translate(498.87,477.00) scale(0.6089,1)" font-size="18.02" font-weight="bold" fill="#161616" stroke="#161616" stroke-width="0.3" stroke-linejoin="round" letter-spacing="0.821">IGNITION</text>
<text transform="translate(561.00,477.00) scale(0.5924,1)" font-size="15.99" fill="#161616" stroke="#161616" stroke-width="0.35" letter-spacing="1.013"><tspan dy="-1.7">–</tspan><tspan dy="1.7"> OR </tspan><tspan dy="-1.7">–</tspan></text>
<circle cx="616.70" cy="471.00" r="18.05" fill="#fff" stroke="#999999" stroke-width="2.9"/>
<g transform="translate(616.70,471.00) scale(0.92,0.9)" stroke="#111" fill="none" stroke-width="1.15" stroke-linecap="round"><path d="M-7.4,-4.6 C-8.2,-2 -8.2,2.2 -7.4,4.6 C-3.5,5.4 -0.6,3.4 -0.6,0 C-0.6,-3.4 -3.5,-5.4 -7.4,-4.6 Z"/><path d="M8.3,-4.6 C9.1,-2 9.1,2.2 8.3,4.6 C4.4,5.4 1.5,3.4 1.5,0 C1.5,-3.4 4.4,-5.4 8.3,-4.6 Z"/><path d="M-13.3,-5.6 L-9,-3.3 M-14.4,0 L-9.8,0 M-13.1,5.8 L-9,3.5"/><path d="M14.2,-6 L9.8,-3.5 M15,0 L10.4,0 M14.2,5.8 L9.8,3.7"/></g>
<path d="M271.00,521.60 L294.50,521.60 L294.50,539.40 L358.00,539.40" fill="none" stroke="#9a4fbf" stroke-width="3.8" stroke-linecap="butt" stroke-linejoin="miter"/>
<rect x="256.00" y="502.50" width="8.00" height="8.80" fill="#a3191f"/>
<rect x="263.00" y="503.10" width="10.00" height="7.60" fill="#e8131b"/>
<rect x="256.00" y="517.20" width="8.00" height="8.80" fill="#a3191f"/>
<rect x="263.00" y="517.80" width="10.00" height="7.60" fill="#e8131b"/>
<circle cx="240.10" cy="514.30" r="17.31" fill="#4d4d4f" stroke="#000000" stroke-width="4.17"/>
<text transform="translate(100.16,511.60) scale(0.6026,1)" font-size="17.01" font-weight="normal" fill="#161616" stroke="#161616" stroke-width="0.62" stroke-linejoin="round" letter-spacing="1.493">HIGH BEAM SWITCH</text>
<text transform="translate(92.34,529.20) scale(0.6212,1)" font-size="17.01" font-weight="normal" fill="#161616" stroke="#161616" stroke-width="0.62" stroke-linejoin="round" letter-spacing="1.449">(OPTIONAL - Ø20MM)</text>
<circle cx="375.00" cy="540.20" r="17.50" fill="#fff" stroke="#999999" stroke-width="2.8"/>
<g transform="translate(375.00,540.20) scale(1.003)" stroke="#000" fill="none"><line x1="-9.7" y1="-6.9" x2="-2.2" y2="-6.9" stroke-width="1.35"/><line x1="-9.7" y1="-3.65" x2="-2.2" y2="-3.65" stroke-width="1.35"/><line x1="-9.7" y1="-0.5" x2="-2.2" y2="-0.5" stroke-width="1.35"/><line x1="-9.7" y1="2.7" x2="-2.2" y2="2.7" stroke-width="1.35"/><line x1="-9.7" y1="5.9" x2="-2.2" y2="5.9" stroke-width="1.7"/><path d="M0.3,-7.5 A10.6,7.2 0 0 1 0.3,6.8 Q-1.5,-0.3 0.3,-7.5 Z" stroke-width="1.35" stroke-linejoin="round"/></g>
<text transform="translate(398.50,546.20) scale(0.5825,1)" font-size="15.99" fill="#161616" stroke="#161616" stroke-width="0.35" letter-spacing="1.030"><tspan dy="-1.7">–</tspan><tspan dy="1.7"> OR </tspan><tspan dy="-1.7">–</tspan></text>
<ellipse cx="469.30" cy="540.20" rx="32.00" ry="15.80" fill="#fff" stroke="#999999" stroke-width="2.8"/>
<text transform="translate(443.28,546.30) scale(0.5996,1)" font-size="17.88" font-weight="bold" fill="#161616" stroke="#161616" stroke-width="0.3" stroke-linejoin="round" letter-spacing="0.834">IGNITION</text>
<text transform="translate(506.70,546.20) scale(0.5983,1)" font-size="15.99" fill="#161616" stroke="#161616" stroke-width="0.35" letter-spacing="1.003"><tspan dy="-1.7">–</tspan><tspan dy="1.7"> OR </tspan><tspan dy="-1.7">–</tspan></text>
<ellipse cx="564.00" cy="540.20" rx="18.10" ry="17.90" fill="#fff" stroke="#999999" stroke-width="2.8"/>
<text transform="translate(551.76,546.00) scale(0.6006,1)" font-size="17.88" font-weight="bold" fill="#161616" stroke="#161616" stroke-width="0.3" stroke-linejoin="round" letter-spacing="0.832">CAN</text>
<line x1="76.2" y1="603.3" x2="1521.5" y2="603.3" stroke="#a0a0a0" stroke-width="1.4"/>
<text transform="translate(75.62,634.50) scale(0.5907,1)" font-size="28.49" font-weight="normal" fill="#161616" stroke="#161616" stroke-width="1.0" stroke-linejoin="round" letter-spacing="2.370">LINEAR-18</text>
<text transform="translate(177.64,634.50) scale(0.6066,1)" font-size="28.49" font-weight="bold" fill="#f1b22e" stroke="#f1b22e" stroke-width="0.5" stroke-linejoin="round" letter-spacing="1.484">ELITE+</text>
<text transform="translate(249.54,635.50) scale(0.9463,1)" font-size="16.28" font-weight="normal" fill="#161616">(3-PIN APTIV, 12V)</text>
<text transform="translate(1334.35,637.00) scale(1.0274,1)" font-size="15.99" font-weight="normal" fill="#161616">Part number:</text>
<text transform="translate(1432.05,637.00) scale(1.0424,1)" font-size="15.99" font-weight="bold" fill="#161616">1L-28A-200</text>
<path d="M455.00,681.50 L1378.00,681.50 L1378.00,697.00" fill="none" stroke="#999999" stroke-width="3.8" stroke-linecap="butt" stroke-linejoin="miter"/>
<path d="M455.00,690.80 L476.00,690.80 L476.00,709.30 L505.50,709.30" fill="none" stroke="#000000" stroke-width="3.8" stroke-linecap="butt" stroke-linejoin="miter"/>
<rect x="437.90" y="676.00" width="8.00" height="8.40" fill="#a3191f"/>
<rect x="444.90" y="676.60" width="10.50" height="7.20" fill="#e8131b"/>
<rect x="437.90" y="686.10" width="8.00" height="8.40" fill="#a3191f"/>
<rect x="444.90" y="686.70" width="10.50" height="7.20" fill="#e8131b"/>
<circle cx="423.00" cy="686.60" r="16.42" fill="#4d4d4f" stroke="#000000" stroke-width="3.96"/>
<text transform="translate(327.08,681.00) scale(0.6057,1)" font-size="16.57" font-weight="normal" fill="#161616" stroke="#161616" stroke-width="0.62" stroke-linejoin="round" letter-spacing="1.486">LIGHT MODE</text>
<text transform="translate(305.54,699.20) scale(0.5871,1)" font-size="17.15" font-weight="normal" fill="#161616" stroke="#161616" stroke-width="0.62" stroke-linejoin="round" letter-spacing="1.533">SELECT SWTICH</text>
<ellipse cx="572.90" cy="712.40" rx="41.20" ry="21.00" fill="#fff" stroke="#999999" stroke-width="2.0"/>
<g transform="translate(528.70,709.50) scale(-0.950,0.950)"><path d="M0,-9.1 C5.2,-9.1 8,-6.2 10.2,-4.3 C11.4,-3.3 12.3,-2.8 13.4,-2.7 L13.4,2.7 C12.3,2.8 11.4,3.3 10.2,4.3 C8,6.2 5.2,9.1 0,9.1 C-6.2,9.1 -10.6,5 -10.6,0 C-10.6,-5 -6.2,-9.1 0,-9.1 Z" fill="#7b7c7f"/><ellipse cx="0.4" cy="-0.6" rx="5" ry="3.9" fill="#fff"/><rect x="13" y="-3.8" width="8" height="7.5" fill="#2273c3"/><rect x="20.4" y="-5" width="5.7" height="9.7" fill="#2273c3"/></g>
<text transform="translate(549.15,710.80) scale(0.6310,1)" font-size="15.41" font-weight="bold" fill="#161616" stroke="#161616" stroke-width="0.4" stroke-linejoin="round">BATTERY</text>
<text transform="translate(558.24,725.50) scale(0.7402,1)" font-size="15.12" font-weight="bold" fill="#161616" stroke="#161616" stroke-width="0.4" stroke-linejoin="round">(+VE)</text>
<g transform="translate(620.50,734.40) scale(1.0029,1.0059)"><path d="M12.4,0.55 L229.2,0.55 L239.4,11.3 L239.4,14.9 Q239.4,16.35 237.6,16.35 L4.6,16.35 Q1.4,16.35 0.9,13.7 Q0.5,12 2.2,10.2 Z" fill="#fdfdfd" stroke="#2c2c2c" stroke-width="1.1" stroke-linejoin="round"/><path d="M12.6,2.6 L4.6,10.7 Q3.2,12.2 3.6,13.3 Q4,14.4 5.6,14.4 L12.6,14.4 M4.8,12.2 H12.6" fill="none" stroke="#444" stroke-width="0.8" stroke-linejoin="round"/><path d="M228.4,2.6 L236.6,11.4 L236.6,14.4 L228.4,14.4" stroke="#444" stroke-width="0.8" fill="none"/><rect x="13.1" y="2.0" width="214.4" height="13.0" fill="#8c8c8c" stroke="#2e2e2e" stroke-width="0.9"/><rect x="13.6" y="3.9" width="213.4" height="9.9" fill="#4c4c4c"/><rect x="14" y="4.2" width="4.4" height="9.2" fill="#e6e6e6"/><rect x="222.4" y="4.2" width="4.4" height="9.2" fill="#e6e6e6"/><path d="M19.60,4.4 h10.60 v5.8 q0,2.9 -2.9,2.9 h-4.80 q-2.9,0 -2.9,-2.9 z" fill="#cbcbcb"/><line x1="24.90" y1="5" x2="24.90" y2="12.2" stroke="#b0b0b0" stroke-width="1.3"/><path d="M30.20,4.4 h10.60 v5.8 q0,2.9 -2.9,2.9 h-4.80 q-2.9,0 -2.9,-2.9 z" fill="#cbcbcb"/><line x1="35.50" y1="5" x2="35.50" y2="12.2" stroke="#b0b0b0" stroke-width="1.3"/><line x1="30.20" y1="4.6" x2="30.20" y2="10.2" stroke="#9e9e9e" stroke-width="1.1"/><path d="M40.80,4.4 h10.60 v5.8 q0,2.9 -2.9,2.9 h-4.80 q-2.9,0 -2.9,-2.9 z" fill="#cbcbcb"/><line x1="46.10" y1="5" x2="46.10" y2="12.2" stroke="#b0b0b0" stroke-width="1.3"/><line x1="40.80" y1="4.6" x2="40.80" y2="10.2" stroke="#9e9e9e" stroke-width="1.1"/><path d="M53.70,4.4 h10.60 v5.8 q0,2.9 -2.9,2.9 h-4.80 q-2.9,0 -2.9,-2.9 z" fill="#cbcbcb"/><line x1="59.00" y1="5" x2="59.00" y2="12.2" stroke="#b0b0b0" stroke-width="1.3"/><path d="M64.30,4.4 h10.60 v5.8 q0,2.9 -2.9,2.9 h-4.80 q-2.9,0 -2.9,-2.9 z" fill="#cbcbcb"/><line x1="69.60" y1="5" x2="69.60" y2="12.2" stroke="#b0b0b0" stroke-width="1.3"/><line x1="64.30" y1="4.6" x2="64.30" y2="10.2" stroke="#9e9e9e" stroke-width="1.1"/><path d="M74.90,4.4 h10.60 v5.8 q0,2.9 -2.9,2.9 h-4.80 q-2.9,0 -2.9,-2.9 z" fill="#cbcbcb"/><line x1="80.20" y1="5" x2="80.20" y2="12.2" stroke="#b0b0b0" stroke-width="1.3"/><line x1="74.90" y1="4.6" x2="74.90" y2="10.2" stroke="#9e9e9e" stroke-width="1.1"/><path d="M87.80,4.4 h10.60 v5.8 q0,2.9 -2.9,2.9 h-4.80 q-2.9,0 -2.9,-2.9 z" fill="#cbcbcb"/><line x1="93.10" y1="5" x2="93.10" y2="12.2" stroke="#b0b0b0" stroke-width="1.3"/><path d="M98.40,4.4 h10.60 v5.8 q0,2.9 -2.9,2.9 h-4.80 q-2.9,0 -2.9,-2.9 z" fill="#cbcbcb"/><line x1="103.70" y1="5" x2="103.70" y2="12.2" stroke="#b0b0b0" stroke-width="1.3"/><line x1="98.40" y1="4.6" x2="98.40" y2="10.2" stroke="#9e9e9e" stroke-width="1.1"/><path d="M109.00,4.4 h10.60 v5.8 q0,2.9 -2.9,2.9 h-4.80 q-2.9,0 -2.9,-2.9 z" fill="#cbcbcb"/><line x1="114.30" y1="5" x2="114.30" y2="12.2" stroke="#b0b0b0" stroke-width="1.3"/><line x1="109.00" y1="4.6" x2="109.00" y2="10.2" stroke="#9e9e9e" stroke-width="1.1"/><path d="M121.90,4.4 h10.60 v5.8 q0,2.9 -2.9,2.9 h-4.80 q-2.9,0 -2.9,-2.9 z" fill="#cbcbcb"/><line x1="127.20" y1="5" x2="127.20" y2="12.2" stroke="#b0b0b0" stroke-width="1.3"/><path d="M132.50,4.4 h10.60 v5.8 q0,2.9 -2.9,2.9 h-4.80 q-2.9,0 -2.9,-2.9 z" fill="#cbcbcb"/><line x1="137.80" y1="5" x2="137.80" y2="12.2" stroke="#b0b0b0" stroke-width="1.3"/><line x1="132.50" y1="4.6" x2="132.50" y2="10.2" stroke="#9e9e9e" stroke-width="1.1"/><path d="M143.10,4.4 h10.60 v5.8 q0,2.9 -2.9,2.9 h-4.80 q-2.9,0 -2.9,-2.9 z" fill="#cbcbcb"/><line x1="148.40" y1="5" x2="148.40" y2="12.2" stroke="#b0b0b0" stroke-width="1.3"/><line x1="143.10" y1="4.6" x2="143.10" y2="10.2" stroke="#9e9e9e" stroke-width="1.1"/><path d="M156.00,4.4 h10.60 v5.8 q0,2.9 -2.9,2.9 h-4.80 q-2.9,0 -2.9,-2.9 z" fill="#cbcbcb"/><line x1="161.30" y1="5" x2="161.30" y2="12.2" stroke="#b0b0b0" stroke-width="1.3"/><path d="M166.60,4.4 h10.60 v5.8 q0,2.9 -2.9,2.9 h-4.80 q-2.9,0 -2.9,-2.9 z" fill="#cbcbcb"/><line x1="171.90" y1="5" x2="171.90" y2="12.2" stroke="#b0b0b0" stroke-width="1.3"/><line x1="166.60" y1="4.6" x2="166.60" y2="10.2" stroke="#9e9e9e" stroke-width="1.1"/><path d="M177.20,4.4 h10.60 v5.8 q0,2.9 -2.9,2.9 h-4.80 q-2.9,0 -2.9,-2.9 z" fill="#cbcbcb"/><line x1="182.50" y1="5" x2="182.50" y2="12.2" stroke="#b0b0b0" stroke-width="1.3"/><line x1="177.20" y1="4.6" x2="177.20" y2="10.2" stroke="#9e9e9e" stroke-width="1.1"/><path d="M190.10,4.4 h10.60 v5.8 q0,2.9 -2.9,2.9 h-4.80 q-2.9,0 -2.9,-2.9 z" fill="#cbcbcb"/><line x1="195.40" y1="5" x2="195.40" y2="12.2" stroke="#b0b0b0" stroke-width="1.3"/><path d="M200.70,4.4 h10.60 v5.8 q0,2.9 -2.9,2.9 h-4.80 q-2.9,0 -2.9,-2.9 z" fill="#cbcbcb"/><line x1="206.00" y1="5" x2="206.00" y2="12.2" stroke="#b0b0b0" stroke-width="1.3"/><line x1="200.70" y1="4.6" x2="200.70" y2="10.2" stroke="#9e9e9e" stroke-width="1.1"/><path d="M211.30,4.4 h10.60 v5.8 q0,2.9 -2.9,2.9 h-4.80 q-2.9,0 -2.9,-2.9 z" fill="#cbcbcb"/><line x1="216.60" y1="5" x2="216.60" y2="12.2" stroke="#b0b0b0" stroke-width="1.3"/><line x1="211.30" y1="4.6" x2="211.30" y2="10.2" stroke="#9e9e9e" stroke-width="1.1"/></g>
<path d="M859.00,745.60 L943.00,745.60" fill="none" stroke="#000000" stroke-width="5.6" stroke-linecap="butt" stroke-linejoin="miter"/>
<rect x="942.00" y="740.00" width="2.40" height="11.50" fill="#000000"/>
<rect x="944.00" y="735.30" width="17.20" height="19.90" fill="#000000"/>
<rect x="961.00" y="737.00" width="7.30" height="16.50" fill="#000000"/>
<rect x="977.00" y="738.00" width="7.50" height="13.00" fill="#000000"/>
<rect x="984.00" y="735.50" width="6.40" height="17.50" fill="#e8131b"/>
<rect x="984.00" y="741.50" width="6.40" height="6.50" fill="#000000"/>
<rect x="990.00" y="735.30" width="15.80" height="17.50" fill="#000000"/>
<rect x="1005.50" y="739.00" width="13.30" height="10.60" fill="#000000"/>
<rect x="1018.50" y="740.30" width="42.30" height="8.50" fill="#000000"/>
<rect x="1020.05" y="741.85" width="39.20" height="5.40" fill="url(#h1)"/>
<rect x="1051.30" y="693.30" width="9.50" height="55.50" fill="#000000"/>
<rect x="1052.85" y="694.85" width="6.40" height="52.40" fill="url(#h1v)"/>
<rect x="1051.30" y="693.30" width="319.30" height="9.10" fill="#000000"/>
<rect x="1052.85" y="694.85" width="316.20" height="6.00" fill="url(#h1)"/>
<path d="M1051.80,748.30 L1060.30,740.80" fill="none" stroke="#000000" stroke-width="1.3" stroke-linecap="butt" stroke-linejoin="miter"/>
<path d="M1051.80,693.80 L1060.30,701.90" fill="none" stroke="#000000" stroke-width="1.3" stroke-linecap="butt" stroke-linejoin="miter"/>
<path d="M1061.40,694.70 h5.11 l-3.91,6.30 h-1.2 z" fill="#909090"/>
<path d="M1369.20,701.00 h-5.11 l3.91,-6.30 h1.2 z" fill="#909090"/>
<path d="M1370.00,701.00 L1393.00,701.00" fill="none" stroke="#e8131b" stroke-width="3.4" stroke-linecap="butt" stroke-linejoin="miter"/>
<path d="M1370,697.6 H1380 C1386,697.6 1388.2,700 1388.2,705 C1388.2,712 1385.6,715 1385.6,721 C1385.6,728 1388,731.5 1394,732" fill="none" stroke="#000000" stroke-width="3.4" stroke-linecap="butt" stroke-linejoin="round"/>
<path d="M1370.00,733.70 L1394.00,733.70" fill="none" stroke="#000000" stroke-width="3.3" stroke-linecap="butt" stroke-linejoin="miter"/>
<rect x="1221.30" y="730.50" width="150.00" height="8.40" fill="#000000"/>
<rect x="1222.85" y="732.05" width="146.90" height="5.30" fill="url(#h1)"/>
<path d="M1222.70,731.90 h4.67 l-3.47,5.60 h-1.2 z" fill="#909090"/>
<path d="M1369.90,737.50 h-4.67 l3.47,-5.60 h1.2 z" fill="#909090"/>
<path d="M1206.00,734.20 L1222.00,734.20" fill="none" stroke="#000000" stroke-width="2.8" stroke-linecap="butt" stroke-linejoin="miter"/>
<g transform="translate(1182.60,734.20) scale(0.970,0.970)"><path d="M0,-9.1 C5.2,-9.1 8,-6.2 10.2,-4.3 C11.4,-3.3 12.3,-2.8 13.4,-2.7 L13.4,2.7 C12.3,2.8 11.4,3.3 10.2,4.3 C8,6.2 5.2,9.1 0,9.1 C-6.2,9.1 -10.6,5 -10.6,0 C-10.6,-5 -6.2,-9.1 0,-9.1 Z" fill="#7b7c7f"/><ellipse cx="0.4" cy="-0.6" rx="5" ry="3.9" fill="#fff"/><rect x="13" y="-3.8" width="8" height="7.5" fill="#2273c3"/><rect x="20.4" y="-5" width="5.7" height="9.7" fill="#2273c3"/></g>
<text transform="translate(1079.25,740.50) scale(0.6232,1)" font-size="17.88" font-weight="bold" fill="#161616" stroke="#161616" stroke-width="0.15" stroke-linejoin="round" letter-spacing="0.883">BATTERY (-VE)</text>
<path d="M336.00,772.20 L1370.40,772.20" fill="none" stroke="#000000" stroke-width="8.6" stroke-linecap="butt" stroke-linejoin="miter"/>
<path d="M1370.00,772.00 L1393.00,772.00" fill="none" stroke="#9a4fbf" stroke-width="4.2" stroke-linecap="butt" stroke-linejoin="miter"/>
<text transform="translate(999.75,810.00) scale(0.6025,1)" font-size="18.60" font-weight="bold" fill="#161616" stroke="#161616" stroke-width="0.15" stroke-linejoin="round" letter-spacing="0.913">BATTERY (+VE)</text>
<g transform="translate(1105.60,803.00) scale(0.970,0.970)"><path d="M0,-9.1 C5.2,-9.1 8,-6.2 10.2,-4.3 C11.4,-3.3 12.3,-2.8 13.4,-2.7 L13.4,2.7 C12.3,2.8 11.4,3.3 10.2,4.3 C8,6.2 5.2,9.1 0,9.1 C-6.2,9.1 -10.6,5 -10.6,0 C-10.6,-5 -6.2,-9.1 0,-9.1 Z" fill="#7b7c7f"/><ellipse cx="0.4" cy="-0.6" rx="5" ry="3.9" fill="#fff"/><rect x="13" y="-3.8" width="8" height="7.5" fill="#2273c3"/><rect x="20.4" y="-5" width="5.7" height="9.7" fill="#2273c3"/></g>
<path d="M1130.00,803.00 L1222.00,803.00" fill="none" stroke="#e8131b" stroke-width="3.8" stroke-linecap="butt" stroke-linejoin="miter"/>
<rect x="1161.30" y="798.05" width="43.00" height="9.50" fill="#000000"/>
<rect x="1166.30" y="791.90" width="33.00" height="21.80" fill="#000000"/>
<rect x="1221.30" y="798.80" width="149.70" height="8.20" fill="#000000"/>
<rect x="1222.85" y="800.35" width="146.60" height="5.10" fill="url(#h1)"/>
<path d="M1222.70,800.20 h4.55 l-3.35,5.40 h-1.2 z" fill="#909090"/>
<path d="M1369.60,805.60 h-4.55 l3.35,-5.40 h1.2 z" fill="#909090"/>
<path d="M1370.40,803.00 L1393.00,803.00" fill="none" stroke="#e8131b" stroke-width="4.0" stroke-linecap="butt" stroke-linejoin="miter"/>
<text transform="translate(1169.91,827.50) scale(0.6195,1)" font-size="14.24" font-weight="bold" fill="#161616" stroke="#161616" stroke-width="0.25" stroke-linejoin="round" letter-spacing="0.646">FUSE</text>
<rect x="1401.20" y="690.90" width="107.10" height="123.20" fill="#0b0000"/>
<rect x="1391.30" y="694.85" width="15.90" height="10.30" rx="5.15" fill="#000000"/>
<rect x="1391.30" y="727.35" width="15.90" height="10.30" rx="5.15" fill="#000000"/>
<rect x="1391.30" y="766.85" width="15.90" height="10.30" rx="5.15" fill="#000000"/>
<rect x="1391.30" y="797.45" width="15.90" height="10.30" rx="5.15" fill="#000000"/>
<text transform="translate(1406.98,708.40) scale(0.7039,1)" font-size="14.39" font-weight="bold" fill="#fff" stroke="#fff" stroke-width="0.15" stroke-linejoin="round" letter-spacing="0.710">87</text>
<text transform="translate(1406.98,738.60) scale(0.6986,1)" font-size="14.39" font-weight="bold" fill="#fff" stroke="#fff" stroke-width="0.15" stroke-linejoin="round" letter-spacing="0.716">86</text>
<text transform="translate(1406.98,775.90) scale(0.6931,1)" font-size="14.39" font-weight="bold" fill="#fff" stroke="#fff" stroke-width="0.15" stroke-linejoin="round" letter-spacing="0.721">85</text>
<text transform="translate(1407.07,807.40) scale(0.6960,1)" font-size="14.39" font-weight="bold" fill="#fff" stroke="#fff" stroke-width="0.15" stroke-linejoin="round" letter-spacing="0.718">30</text>
<text transform="translate(1462.00,728.33) rotate(90) scale(0.5799,1)" font-size="18.31" font-weight="bold" fill="#fff" stroke="#fff" stroke-width="0.2" stroke-linejoin="round">12V RELAY</text>
<path d="M280.00,770.60 L336.50,770.60" fill="none" stroke="#9a4fbf" stroke-width="4.0" stroke-linecap="butt" stroke-linejoin="miter"/>
<path d="M280.00,784.80 L319.30,784.80 L319.30,802.00 L336.00,802.00" fill="none" stroke="#9a4fbf" stroke-width="3.8" stroke-linecap="butt" stroke-linejoin="miter"/>
<rect x="264.50" y="766.20" width="8.00" height="8.80" fill="#a3191f"/>
<rect x="271.50" y="766.80" width="10.00" height="7.60" fill="#e8131b"/>
<rect x="264.50" y="780.90" width="8.00" height="8.80" fill="#a3191f"/>
<rect x="271.50" y="781.50" width="10.00" height="7.60" fill="#e8131b"/>
<circle cx="248.50" cy="778.00" r="17.40" fill="#4d4d4f" stroke="#000000" stroke-width="4.19"/>
<text transform="translate(105.75,775.00) scale(0.6075,1)" font-size="17.01" font-weight="normal" fill="#161616" stroke="#161616" stroke-width="0.62" stroke-linejoin="round" letter-spacing="1.482">HIGH BEAM SWITCH</text>
<text transform="translate(98.35,793.00) scale(0.6189,1)" font-size="17.01" font-weight="normal" fill="#161616" stroke="#161616" stroke-width="0.62" stroke-linejoin="round" letter-spacing="1.454">(OPTIONAL - Ø20MM)</text>
<circle cx="353.00" cy="802.10" r="17.50" fill="#fff" stroke="#999999" stroke-width="2.8"/>
<g transform="translate(353.00,802.10) scale(1.003)" stroke="#000" fill="none"><line x1="-9.7" y1="-6.9" x2="-2.2" y2="-6.9" stroke-width="1.35"/><line x1="-9.7" y1="-3.65" x2="-2.2" y2="-3.65" stroke-width="1.35"/><line x1="-9.7" y1="-0.5" x2="-2.2" y2="-0.5" stroke-width="1.35"/><line x1="-9.7" y1="2.7" x2="-2.2" y2="2.7" stroke-width="1.35"/><line x1="-9.7" y1="5.9" x2="-2.2" y2="5.9" stroke-width="1.7"/><path d="M0.3,-7.5 A10.6,7.2 0 0 1 0.3,6.8 Q-1.5,-0.3 0.3,-7.5 Z" stroke-width="1.35" stroke-linejoin="round"/></g>
<text transform="translate(375.60,807.60) scale(0.5924,1)" font-size="15.99" fill="#161616" stroke="#161616" stroke-width="0.35" letter-spacing="1.013"><tspan dy="-1.7">–</tspan><tspan dy="1.7"> OR </tspan><tspan dy="-1.7">–</tspan></text>
<ellipse cx="445.50" cy="802.00" rx="31.30" ry="15.70" fill="#fff" stroke="#999999" stroke-width="2.8"/>
<text transform="translate(420.09,807.60) scale(0.6130,1)" font-size="17.30" font-weight="bold" fill="#161616" stroke="#161616" stroke-width="0.3" stroke-linejoin="round" letter-spacing="0.816">IGNITION</text>
<text transform="translate(482.60,807.60) scale(0.5805,1)" font-size="15.99" fill="#161616" stroke="#161616" stroke-width="0.35" letter-spacing="1.034"><tspan dy="-1.7">–</tspan><tspan dy="1.7"> OR </tspan><tspan dy="-1.7">–</tspan></text>
<ellipse cx="539.70" cy="802.00" rx="18.00" ry="17.80" fill="#fff" stroke="#999999" stroke-width="2.8"/>
<text transform="translate(527.56,807.50) scale(0.6180,1)" font-size="17.30" font-weight="bold" fill="#161616" stroke="#161616" stroke-width="0.3" stroke-linejoin="round" letter-spacing="0.809">CAN</text>
<line x1="75.6" y1="878.4" x2="1521.6" y2="878.4" stroke="#4a4a4a" stroke-width="1.1"/>
<text transform="translate(75.83,911.30) scale(0.5879,1)" font-size="28.49" font-weight="normal" fill="#161616" stroke="#161616" stroke-width="1.0" stroke-linejoin="round" letter-spacing="2.382">LINEAR-18</text>
<text transform="translate(177.60,911.30) scale(0.6302,1)" font-size="28.49" font-weight="bold" fill="#f1b22e" stroke="#f1b22e" stroke-width="0.5" stroke-linejoin="round" letter-spacing="1.428">ELITE WITH I-LBA</text>
<text transform="translate(352.35,913.00) scale(0.9240,1)" font-size="16.57" font-weight="normal" fill="#161616">(4-PIN DEUTSCH DT, 12V)</text>
<text transform="translate(1334.35,913.00) scale(1.0274,1)" font-size="15.99" font-weight="normal" fill="#161616">Part number:</text>
<text transform="translate(1431.98,913.00) scale(1.0094,1)" font-size="15.99" font-weight="bold" fill="#161616">1L-LBA-150</text>
<path d="M316.00,955.00 L1374.50,955.00 L1374.50,984.00" fill="none" stroke="#000000" stroke-width="8.4" stroke-linecap="butt" stroke-linejoin="miter"/>
<path d="M1374.5,983.5 C1374.5,987.5 1372,988.8 1368,988.8 H1361" fill="none" stroke="#9a4fbf" stroke-width="3.8" stroke-linecap="butt" stroke-linejoin="round"/>
<path d="M260.00,953.60 L316.50,953.60" fill="none" stroke="#9a4fbf" stroke-width="4.0" stroke-linecap="butt" stroke-linejoin="miter"/>
<path d="M260.00,967.80 L299.30,967.80 L299.30,984.50 L316.00,984.50" fill="none" stroke="#9a4fbf" stroke-width="3.8" stroke-linecap="butt" stroke-linejoin="miter"/>
<rect x="244.60" y="948.70" width="8.00" height="8.80" fill="#a3191f"/>
<rect x="251.60" y="949.30" width="10.00" height="7.60" fill="#e8131b"/>
<rect x="244.60" y="963.40" width="8.00" height="8.80" fill="#a3191f"/>
<rect x="251.60" y="964.00" width="10.00" height="7.60" fill="#e8131b"/>
<circle cx="228.70" cy="960.50" r="17.31" fill="#4d4d4f" stroke="#000000" stroke-width="4.17"/>
<text transform="translate(85.75,957.60) scale(0.6075,1)" font-size="17.01" font-weight="normal" fill="#161616" stroke="#161616" stroke-width="0.62" stroke-linejoin="round" letter-spacing="1.482">HIGH BEAM SWITCH</text>
<text transform="translate(78.35,976.00) scale(0.6189,1)" font-size="17.01" font-weight="normal" fill="#161616" stroke="#161616" stroke-width="0.62" stroke-linejoin="round" letter-spacing="1.454">(OPTIONAL - Ø20MM)</text>
<circle cx="333.00" cy="985.00" r="17.50" fill="#fff" stroke="#999999" stroke-width="2.8"/>
<g transform="translate(333.00,985.00) scale(1.003)" stroke="#000" fill="none"><line x1="-9.7" y1="-6.9" x2="-2.2" y2="-6.9" stroke-width="1.35"/><line x1="-9.7" y1="-3.65" x2="-2.2" y2="-3.65" stroke-width="1.35"/><line x1="-9.7" y1="-0.5" x2="-2.2" y2="-0.5" stroke-width="1.35"/><line x1="-9.7" y1="2.7" x2="-2.2" y2="2.7" stroke-width="1.35"/><line x1="-9.7" y1="5.9" x2="-2.2" y2="5.9" stroke-width="1.7"/><path d="M0.3,-7.5 A10.6,7.2 0 0 1 0.3,6.8 Q-1.5,-0.3 0.3,-7.5 Z" stroke-width="1.35" stroke-linejoin="round"/></g>
<text transform="translate(355.60,990.40) scale(0.5963,1)" font-size="15.99" fill="#161616" stroke="#161616" stroke-width="0.35" letter-spacing="1.006"><tspan dy="-1.7">–</tspan><tspan dy="1.7"> OR </tspan><tspan dy="-1.7">–</tspan></text>
<ellipse cx="425.50" cy="985.00" rx="31.30" ry="15.80" fill="#fff" stroke="#999999" stroke-width="2.8"/>
<text transform="translate(400.09,990.50) scale(0.6130,1)" font-size="17.30" font-weight="bold" fill="#161616" stroke="#161616" stroke-width="0.3" stroke-linejoin="round" letter-spacing="0.816">IGNITION</text>
<text transform="translate(462.60,990.40) scale(0.5805,1)" font-size="15.99" fill="#161616" stroke="#161616" stroke-width="0.35" letter-spacing="1.034"><tspan dy="-1.7">–</tspan><tspan dy="1.7"> OR </tspan><tspan dy="-1.7">–</tspan></text>
<ellipse cx="519.70" cy="985.00" rx="18.00" ry="17.80" fill="#fff" stroke="#999999" stroke-width="2.8"/>
<text transform="translate(507.56,990.40) scale(0.6180,1)" font-size="17.30" font-weight="bold" fill="#161616" stroke="#161616" stroke-width="0.3" stroke-linejoin="round" letter-spacing="0.809">CAN</text>
<g transform="translate(599.40,984.60) scale(1.0379,1.0296)"><path d="M12.4,0.55 L229.2,0.55 L239.4,11.3 L239.4,14.9 Q239.4,16.35 237.6,16.35 L4.6,16.35 Q1.4,16.35 0.9,13.7 Q0.5,12 2.2,10.2 Z" fill="#fdfdfd" stroke="#2c2c2c" stroke-width="1.1" stroke-linejoin="round"/><path d="M12.6,2.6 L4.6,10.7 Q3.2,12.2 3.6,13.3 Q4,14.4 5.6,14.4 L12.6,14.4 M4.8,12.2 H12.6" fill="none" stroke="#444" stroke-width="0.8" stroke-linejoin="round"/><path d="M228.4,2.6 L236.6,11.4 L236.6,14.4 L228.4,14.4" stroke="#444" stroke-width="0.8" fill="none"/><rect x="13.1" y="2.0" width="214.4" height="13.0" fill="#8c8c8c" stroke="#2e2e2e" stroke-width="0.9"/><rect x="13.6" y="3.9" width="213.4" height="9.9" fill="#4c4c4c"/><rect x="14" y="4.2" width="4.4" height="9.2" fill="#e6e6e6"/><rect x="222.4" y="4.2" width="4.4" height="9.2" fill="#e6e6e6"/><path d="M19.60,4.4 h10.60 v5.8 q0,2.9 -2.9,2.9 h-4.80 q-2.9,0 -2.9,-2.9 z" fill="#cbcbcb"/><line x1="24.90" y1="5" x2="24.90" y2="12.2" stroke="#b0b0b0" stroke-width="1.3"/><path d="M30.20,4.4 h10.60 v5.8 q0,2.9 -2.9,2.9 h-4.80 q-2.9,0 -2.9,-2.9 z" fill="#cbcbcb"/><line x1="35.50" y1="5" x2="35.50" y2="12.2" stroke="#b0b0b0" stroke-width="1.3"/><line x1="30.20" y1="4.6" x2="30.20" y2="10.2" stroke="#9e9e9e" stroke-width="1.1"/><path d="M40.80,4.4 h10.60 v5.8 q0,2.9 -2.9,2.9 h-4.80 q-2.9,0 -2.9,-2.9 z" fill="#cbcbcb"/><line x1="46.10" y1="5" x2="46.10" y2="12.2" stroke="#b0b0b0" stroke-width="1.3"/><line x1="40.80" y1="4.6" x2="40.80" y2="10.2" stroke="#9e9e9e" stroke-width="1.1"/><path d="M53.70,4.4 h10.60 v5.8 q0,2.9 -2.9,2.9 h-4.80 q-2.9,0 -2.9,-2.9 z" fill="#cbcbcb"/><line x1="59.00" y1="5" x2="59.00" y2="12.2" stroke="#b0b0b0" stroke-width="1.3"/><path d="M64.30,4.4 h10.60 v5.8 q0,2.9 -2.9,2.9 h-4.80 q-2.9,0 -2.9,-2.9 z" fill="#cbcbcb"/><line x1="69.60" y1="5" x2="69.60" y2="12.2" stroke="#b0b0b0" stroke-width="1.3"/><line x1="64.30" y1="4.6" x2="64.30" y2="10.2" stroke="#9e9e9e" stroke-width="1.1"/><path d="M74.90,4.4 h10.60 v5.8 q0,2.9 -2.9,2.9 h-4.80 q-2.9,0 -2.9,-2.9 z" fill="#cbcbcb"/><line x1="80.20" y1="5" x2="80.20" y2="12.2" stroke="#b0b0b0" stroke-width="1.3"/><line x1="74.90" y1="4.6" x2="74.90" y2="10.2" stroke="#9e9e9e" stroke-width="1.1"/><path d="M87.80,4.4 h10.60 v5.8 q0,2.9 -2.9,2.9 h-4.80 q-2.9,0 -2.9,-2.9 z" fill="#cbcbcb"/><line x1="93.10" y1="5" x2="93.10" y2="12.2" stroke="#b0b0b0" stroke-width="1.3"/><path d="M98.40,4.4 h10.60 v5.8 q0,2.9 -2.9,2.9 h-4.80 q-2.9,0 -2.9,-2.9 z" fill="#cbcbcb"/><line x1="103.70" y1="5" x2="103.70" y2="12.2" stroke="#b0b0b0" stroke-width="1.3"/><line x1="98.40" y1="4.6" x2="98.40" y2="10.2" stroke="#9e9e9e" stroke-width="1.1"/><path d="M109.00,4.4 h10.60 v5.8 q0,2.9 -2.9,2.9 h-4.80 q-2.9,0 -2.9,-2.9 z" fill="#cbcbcb"/><line x1="114.30" y1="5" x2="114.30" y2="12.2" stroke="#b0b0b0" stroke-width="1.3"/><line x1="109.00" y1="4.6" x2="109.00" y2="10.2" stroke="#9e9e9e" stroke-width="1.1"/><path d="M121.90,4.4 h10.60 v5.8 q0,2.9 -2.9,2.9 h-4.80 q-2.9,0 -2.9,-2.9 z" fill="#cbcbcb"/><line x1="127.20" y1="5" x2="127.20" y2="12.2" stroke="#b0b0b0" stroke-width="1.3"/><path d="M132.50,4.4 h10.60 v5.8 q0,2.9 -2.9,2.9 h-4.80 q-2.9,0 -2.9,-2.9 z" fill="#cbcbcb"/><line x1="137.80" y1="5" x2="137.80" y2="12.2" stroke="#b0b0b0" stroke-width="1.3"/><line x1="132.50" y1="4.6" x2="132.50" y2="10.2" stroke="#9e9e9e" stroke-width="1.1"/><path d="M143.10,4.4 h10.60 v5.8 q0,2.9 -2.9,2.9 h-4.80 q-2.9,0 -2.9,-2.9 z" fill="#cbcbcb"/><line x1="148.40" y1="5" x2="148.40" y2="12.2" stroke="#b0b0b0" stroke-width="1.3"/><line x1="143.10" y1="4.6" x2="143.10" y2="10.2" stroke="#9e9e9e" stroke-width="1.1"/><path d="M156.00,4.4 h10.60 v5.8 q0,2.9 -2.9,2.9 h-4.80 q-2.9,0 -2.9,-2.9 z" fill="#cbcbcb"/><line x1="161.30" y1="5" x2="161.30" y2="12.2" stroke="#b0b0b0" stroke-width="1.3"/><path d="M166.60,4.4 h10.60 v5.8 q0,2.9 -2.9,2.9 h-4.80 q-2.9,0 -2.9,-2.9 z" fill="#cbcbcb"/><line x1="171.90" y1="5" x2="171.90" y2="12.2" stroke="#b0b0b0" stroke-width="1.3"/><line x1="166.60" y1="4.6" x2="166.60" y2="10.2" stroke="#9e9e9e" stroke-width="1.1"/><path d="M177.20,4.4 h10.60 v5.8 q0,2.9 -2.9,2.9 h-4.80 q-2.9,0 -2.9,-2.9 z" fill="#cbcbcb"/><line x1="182.50" y1="5" x2="182.50" y2="12.2" stroke="#b0b0b0" stroke-width="1.3"/><line x1="177.20" y1="4.6" x2="177.20" y2="10.2" stroke="#9e9e9e" stroke-width="1.1"/><path d="M190.10,4.4 h10.60 v5.8 q0,2.9 -2.9,2.9 h-4.80 q-2.9,0 -2.9,-2.9 z" fill="#cbcbcb"/><line x1="195.40" y1="5" x2="195.40" y2="12.2" stroke="#b0b0b0" stroke-width="1.3"/><path d="M200.70,4.4 h10.60 v5.8 q0,2.9 -2.9,2.9 h-4.80 q-2.9,0 -2.9,-2.9 z" fill="#cbcbcb"/><line x1="206.00" y1="5" x2="206.00" y2="12.2" stroke="#b0b0b0" stroke-width="1.3"/><line x1="200.70" y1="4.6" x2="200.70" y2="10.2" stroke="#9e9e9e" stroke-width="1.1"/><path d="M211.30,4.4 h10.60 v5.8 q0,2.9 -2.9,2.9 h-4.80 q-2.9,0 -2.9,-2.9 z" fill="#cbcbcb"/><line x1="216.60" y1="5" x2="216.60" y2="12.2" stroke="#b0b0b0" stroke-width="1.3"/><line x1="211.30" y1="4.6" x2="211.30" y2="10.2" stroke="#9e9e9e" stroke-width="1.1"/></g>
<path d="M846.00,994.50 L914.00,994.50" fill="none" stroke="#000000" stroke-width="5.0" stroke-linecap="butt" stroke-linejoin="miter"/>
<rect x="912.60" y="990.40" width="2.80" height="9.00" fill="#929497"/>
<rect x="915.00" y="982.30" width="23.60" height="24.70" fill="#929497"/>
<rect x="938.30" y="983.90" width="7.20" height="20.60" fill="#929497"/>
<rect x="935.20" y="981.60" width="3.50" height="25.60" fill="#f4a23c"/>
<rect x="958.20" y="986.00" width="9.80" height="16.80" fill="#929497"/>
<rect x="967.80" y="983.00" width="24.80" height="23.20" fill="#929497"/>
<rect x="992.40" y="986.00" width="4.20" height="16.20" fill="#929497"/>
<rect x="967.80" y="983.00" width="3.40" height="23.20" fill="#f4a23c"/>
<path d="M967.6,992.6 L971.4,994 L971.4,995.4 L967.6,996.8 Z" fill="#929497"/>
<path d="M996.00,989.30 L1012.00,989.30" fill="none" stroke="#9a4fbf" stroke-width="2.8" stroke-linecap="butt" stroke-linejoin="miter"/>
<path d="M996.00,992.20 L1012.00,992.20" fill="none" stroke="#2ab84e" stroke-width="3.2" stroke-linecap="butt" stroke-linejoin="miter"/>
<path d="M996.00,995.40 L1012.00,995.40" fill="none" stroke="#000000" stroke-width="3.2" stroke-linecap="butt" stroke-linejoin="miter"/>
<path d="M996.00,998.50 L1012.00,998.50" fill="none" stroke="#e8131b" stroke-width="3.0" stroke-linecap="butt" stroke-linejoin="miter"/>
<rect x="1011.00" y="987.60" width="351.50" height="13.20" fill="#000000"/>
<rect x="1012.55" y="989.15" width="348.40" height="10.10" fill="url(#h2)"/>
<path d="M1012.4,989.0 h8 l-6.6,10.399999999999999 h-1.4 z" fill="#909090"/>
<path d="M1361.1,999.4 h-8 l6.6,-10.399999999999999 h1.4 z" fill="#909090"/>
<path d="M1364.00,1085.40 L1388.00,1085.40" fill="none" stroke="#ffe11a" stroke-width="4.0" stroke-linecap="butt" stroke-linejoin="miter"/>
<path d="M1361,992 C1368,992 1371.3,995 1371.3,1002 V1056 C1371.3,1064 1367,1067.5 1361,1068.6" fill="none" stroke="#2ab84e" stroke-width="4.0" stroke-linecap="butt" stroke-linejoin="round"/>
<path d="M1369,993.4 C1374,994 1376,997 1376,1002 V1008 C1376,1013.5 1379,1015.6 1388,1015.6" fill="none" stroke="#e8131b" stroke-width="4.0" stroke-linecap="butt" stroke-linejoin="round"/>
<path d="M1373,993.2 C1379,993.4 1382,996 1382,1002 V1022 C1382,1030 1377.6,1032 1377.6,1037 C1377.6,1041.5 1381,1043.2 1388,1043.4" fill="none" stroke="#000000" stroke-width="3.9" stroke-linecap="butt" stroke-linejoin="round"/>
<path d="M1363.00,1044.80 L1388.00,1044.80" fill="none" stroke="#000000" stroke-width="3.9" stroke-linecap="butt" stroke-linejoin="miter"/>
<path d="M1360,1071.8 H1376 C1382,1071.8 1383.2,1068 1383.2,1063 V1056 C1383.2,1050 1381,1047 1377,1046" fill="none" stroke="#000000" stroke-width="3.9" stroke-linecap="butt" stroke-linejoin="round"/>
<path d="M1361,1071 C1368,1071 1371.4,1073 1371.4,1080 V1103 C1371.4,1110 1374,1113 1381,1113.4 H1388" fill="none" stroke="#e8131b" stroke-width="4.0" stroke-linecap="butt" stroke-linejoin="round"/>
<path d="M692.00,1070.00 L1361.50,1070.00" fill="none" stroke="#000000" stroke-width="7.6" stroke-linecap="butt" stroke-linejoin="miter"/>
<path d="M672,1059.2 C680,1060.5 684,1066.5 695,1067.6" fill="none" stroke="#000000" stroke-width="4.2" stroke-linecap="butt" stroke-linejoin="round"/>
<path d="M673,1069 L695,1069.6" fill="none" stroke="#2ab84e" stroke-width="4.4" stroke-linecap="butt" stroke-linejoin="round"/>
<path d="M672,1079 C682,1077.5 686,1073.4 695,1072" fill="none" stroke="#e8131b" stroke-width="4.2" stroke-linecap="butt" stroke-linejoin="round"/>
<rect x="657.20" y="1055.40" width="8.00" height="7.80" fill="#a3191f"/>
<rect x="664.20" y="1056.00" width="11.00" height="6.60" fill="#e8131b"/>
<rect x="657.20" y="1065.20" width="8.00" height="7.80" fill="#a3191f"/>
<rect x="664.20" y="1065.80" width="11.00" height="6.60" fill="#e8131b"/>
<rect x="657.20" y="1075.40" width="8.00" height="7.80" fill="#a3191f"/>
<rect x="664.20" y="1076.00" width="11.00" height="6.60" fill="#e8131b"/>
<circle cx="642.80" cy="1069.10" r="15.98" fill="#4d4d4f" stroke="#000000" stroke-width="3.85"/>
<text transform="translate(586.78,1065.20) scale(0.6555,1)" font-size="16.86" font-weight="normal" fill="#161616" stroke="#161616" stroke-width="0.62" stroke-linejoin="round" letter-spacing="1.373">I-LBA</text>
<text transform="translate(572.52,1083.50) scale(0.6215,1)" font-size="16.86" font-weight="normal" fill="#161616" stroke="#161616" stroke-width="0.62" stroke-linejoin="round" letter-spacing="1.448">SWITCH</text>
<rect x="1145.60" y="1041.40" width="218.10" height="7.60" fill="#000000"/>
<rect x="1147.15" y="1042.95" width="215.00" height="4.50" fill="url(#h1)"/>
<path d="M1147.00,1042.80 h4.18 l-2.98,4.80 h-1.2 z" fill="#909090"/>
<path d="M1362.30,1047.60 h-4.18 l2.98,-4.80 h1.2 z" fill="#909090"/>
<path d="M1127.00,1045.00 L1146.50,1045.00" fill="none" stroke="#000000" stroke-width="2.8" stroke-linecap="butt" stroke-linejoin="miter"/>
<g transform="translate(1103.20,1045.00) scale(0.970,0.970)"><path d="M0,-9.1 C5.2,-9.1 8,-6.2 10.2,-4.3 C11.4,-3.3 12.3,-2.8 13.4,-2.7 L13.4,2.7 C12.3,2.8 11.4,3.3 10.2,4.3 C8,6.2 5.2,9.1 0,9.1 C-6.2,9.1 -10.6,5 -10.6,0 C-10.6,-5 -6.2,-9.1 0,-9.1 Z" fill="#7b7c7f"/><ellipse cx="0.4" cy="-0.6" rx="5" ry="3.9" fill="#fff"/><rect x="13" y="-3.8" width="8" height="7.5" fill="#2273c3"/><rect x="20.4" y="-5" width="5.7" height="9.7" fill="#2273c3"/></g>
<text transform="translate(994.75,1051.50) scale(0.6232,1)" font-size="17.88" font-weight="bold" fill="#161616" stroke="#161616" stroke-width="0.15" stroke-linejoin="round" letter-spacing="0.883">BATTERY (-VE)</text>
<path d="M462.00,1122.70 L738.00,1122.70 L738.00,1086.60 L1364.40,1086.60" fill="none" stroke="#000000" stroke-width="8.4" stroke-linecap="butt" stroke-linejoin="miter"/>
<path d="M440.00,1108.20 L467.30,1108.20 L467.30,1074.50" fill="none" stroke="#ffe11a" stroke-width="4.2" stroke-linecap="butt" stroke-linejoin="miter"/>
<path d="M440.00,1123.00 L463.00,1123.00" fill="none" stroke="#ffe11a" stroke-width="4.2" stroke-linecap="butt" stroke-linejoin="miter"/>
<rect x="424.50" y="1104.10" width="8.00" height="8.20" fill="#a3191f"/>
<rect x="431.50" y="1104.70" width="9.70" height="7.00" fill="#e8131b"/>
<rect x="424.50" y="1118.70" width="8.00" height="8.20" fill="#a3191f"/>
<rect x="431.50" y="1119.30" width="9.70" height="7.00" fill="#e8131b"/>
<circle cx="409.60" cy="1115.40" r="16.42" fill="#4d4d4f" stroke="#000000" stroke-width="3.96"/>
<text transform="translate(342.52,1112.00) scale(0.6243,1)" font-size="16.28" font-weight="normal" fill="#161616" stroke="#161616" stroke-width="0.62" stroke-linejoin="round" letter-spacing="1.442">ON/OFF</text>
<text transform="translate(339.52,1130.00) scale(0.6404,1)" font-size="16.57" font-weight="normal" fill="#161616" stroke="#161616" stroke-width="0.62" stroke-linejoin="round" letter-spacing="1.405">SWITCH</text>
<ellipse cx="468.30" cy="1058.80" rx="32.70" ry="15.80" fill="#fff" stroke="#999999" stroke-width="2.2"/>
<text transform="translate(443.84,1064.50) scale(0.5899,1)" font-size="16.72" font-weight="bold" fill="#161616" stroke="#161616" stroke-width="0.3" stroke-linejoin="round" letter-spacing="0.848">IGNITION</text>
<text transform="translate(926.85,1120.00) scale(0.6032,1)" font-size="18.60" font-weight="bold" fill="#161616" stroke="#161616" stroke-width="0.15" stroke-linejoin="round" letter-spacing="0.912">BATTERY (+VE)</text>
<g transform="translate(1036.40,1114.00) scale(0.970,0.970)"><path d="M0,-9.1 C5.2,-9.1 8,-6.2 10.2,-4.3 C11.4,-3.3 12.3,-2.8 13.4,-2.7 L13.4,2.7 C12.3,2.8 11.4,3.3 10.2,4.3 C8,6.2 5.2,9.1 0,9.1 C-6.2,9.1 -10.6,5 -10.6,0 C-10.6,-5 -6.2,-9.1 0,-9.1 Z" fill="#7b7c7f"/><ellipse cx="0.4" cy="-0.6" rx="5" ry="3.9" fill="#fff"/><rect x="13" y="-3.8" width="8" height="7.5" fill="#2273c3"/><rect x="20.4" y="-5" width="5.7" height="9.7" fill="#2273c3"/></g>
<path d="M1060.00,1114.00 L1146.50,1114.00" fill="none" stroke="#e8131b" stroke-width="3.8" stroke-linecap="butt" stroke-linejoin="miter"/>
<rect x="1091.50" y="1109.25" width="43.30" height="9.50" fill="#000000"/>
<rect x="1096.50" y="1103.40" width="33.30" height="21.20" fill="#000000"/>
<rect x="1145.60" y="1110.00" width="221.10" height="7.70" fill="#000000"/>
<rect x="1147.15" y="1111.55" width="218.00" height="4.60" fill="url(#h1)"/>
<path d="M1147.00,1111.40 h4.24 l-3.04,4.90 h-1.2 z" fill="#909090"/>
<path d="M1365.30,1116.30 h-4.24 l3.04,-4.90 h1.2 z" fill="#909090"/>
<path d="M1366.00,1113.70 L1388.00,1113.70" fill="none" stroke="#e8131b" stroke-width="4.0" stroke-linecap="butt" stroke-linejoin="miter"/>
<text transform="translate(1099.87,1139.20) scale(0.6674,1)" font-size="14.10" font-weight="bold" fill="#161616" stroke="#161616" stroke-width="0.25" stroke-linejoin="round" letter-spacing="0.599">FUSE</text>
<rect x="1396.30" y="1001.70" width="106.70" height="123.00" fill="#0b0000"/>
<rect x="1386.30" y="1009.10" width="16.00" height="10.40" rx="5.20" fill="#000000"/>
<rect x="1386.30" y="1039.00" width="16.00" height="10.40" rx="5.20" fill="#000000"/>
<rect x="1386.30" y="1080.20" width="16.00" height="10.40" rx="5.20" fill="#000000"/>
<rect x="1386.30" y="1108.10" width="16.00" height="10.40" rx="5.20" fill="#000000"/>
<text transform="translate(1402.47,1019.30) scale(0.7234,1)" font-size="14.54" font-weight="bold" fill="#fff" stroke="#fff" stroke-width="0.15" stroke-linejoin="round" letter-spacing="0.691">87</text>
<text transform="translate(1402.47,1049.20) scale(0.7180,1)" font-size="14.54" font-weight="bold" fill="#fff" stroke="#fff" stroke-width="0.15" stroke-linejoin="round" letter-spacing="0.696">86</text>
<text transform="translate(1402.47,1090.80) scale(0.7123,1)" font-size="14.54" font-weight="bold" fill="#fff" stroke="#fff" stroke-width="0.15" stroke-linejoin="round" letter-spacing="0.702">85</text>
<text transform="translate(1402.56,1118.40) scale(0.7153,1)" font-size="14.54" font-weight="bold" fill="#fff" stroke="#fff" stroke-width="0.15" stroke-linejoin="round" letter-spacing="0.699">30</text>
<text transform="translate(1450.80,1024.91) rotate(90) scale(0.5826,1)" font-size="24.27" font-weight="bold" fill="#fff" stroke="#fff" stroke-width="0.25" stroke-linejoin="round">12V RELAY</text>
</svg></body></html>
